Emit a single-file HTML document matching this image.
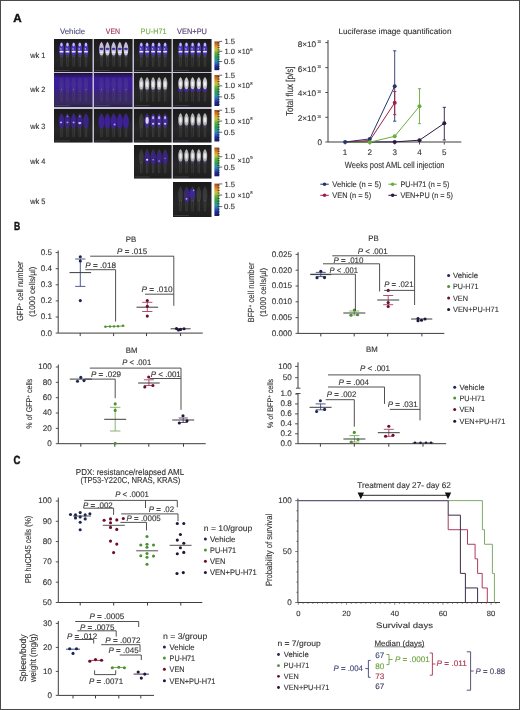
<!DOCTYPE html>
<html><head><meta charset="utf-8"><style>
html,body{margin:0;padding:0;background:#fff;overflow:hidden;}
svg{display:block;font-family:"Liberation Sans",sans-serif;text-rendering:geometricPrecision;will-change:transform;}
</style></head><body>
<svg width="520" height="710" viewBox="0 0 520 710">
<defs>
<linearGradient id="cbar" x1="0" y1="0" x2="0" y2="1">
<stop offset="0" stop-color="#9c4a2a"/><stop offset="0.1" stop-color="#d0701e"/><stop offset="0.2" stop-color="#e0a030"/>
<stop offset="0.3" stop-color="#b8c83c"/><stop offset="0.4" stop-color="#5cae40"/><stop offset="0.55" stop-color="#2e9c50"/><stop offset="0.68" stop-color="#2a92a8"/>
<stop offset="0.78" stop-color="#2a5cc0"/><stop offset="0.88" stop-color="#22288c"/><stop offset="1" stop-color="#1a1a6c"/></linearGradient>
<linearGradient id="darkbg" x1="0" y1="0" x2="0" y2="1"><stop offset="0" stop-color="#1a1a1a"/><stop offset="0.6" stop-color="#262626"/><stop offset="1" stop-color="#1e1e1e"/></linearGradient>
<linearGradient id="purpbg" x1="0" y1="0" x2="0" y2="1"><stop offset="0" stop-color="#1c1034"/><stop offset="0.08" stop-color="#2c1868"/><stop offset="0.16" stop-color="#3a1e9a"/><stop offset="0.45" stop-color="#3a1e92"/><stop offset="0.62" stop-color="#3a2670"/><stop offset="0.9" stop-color="#382a5e"/><stop offset="1" stop-color="#2a2044"/></linearGradient>
<filter id="bl" x="-50%" y="-50%" width="200%" height="200%"><feGaussianBlur stdDeviation="0.5"/></filter>
</defs>
<rect x="0.00" y="0.00" width="520.00" height="710.00" fill="#ffffff"/>
<text x="13.20" y="21.60" font-size="11.80" fill="#111" font-weight="bold" textLength="8.40" lengthAdjust="spacingAndGlyphs" stroke="#111" stroke-width="0.45">A</text>
<text x="14.00" y="229.80" font-size="11.80" fill="#111" font-weight="bold" textLength="6.20" lengthAdjust="spacingAndGlyphs" stroke="#111" stroke-width="0.45">B</text>
<text x="13.50" y="463.80" font-size="11.80" fill="#111" font-weight="bold" textLength="6.90" lengthAdjust="spacingAndGlyphs" stroke="#111" stroke-width="0.45">C</text>
<rect x="54.00" y="39.00" width="157.50" height="103.50" fill="#c6c0d4"/>
<rect x="134.00" y="145.00" width="77.50" height="33.50" fill="#c6c0d4"/>
<rect x="54" y="39" width="38.5" height="33" fill="url(#darkbg)"/>
<path d="M61.51,42.96 C62.89,44.46 63.81,47.49 63.81,49.49 C63.81,55.98 62.89,57.48 61.51,57.48 C60.13,57.48 59.21,55.98 59.21,49.49 C59.21,47.49 60.13,44.46 61.51,42.96 Z" fill="#707070" opacity="0.32" filter="url(#bl)"/>
<line x1="60.61" y1="56.16" x2="60.88" y2="66.72" stroke="#909090" stroke-width="0.45" opacity="0.47"/>
<line x1="62.41" y1="56.16" x2="62.14" y2="66.72" stroke="#909090" stroke-width="0.45" opacity="0.47"/>
<path d="M67.47,42.96 C68.85,44.46 69.77,47.49 69.77,49.49 C69.77,55.98 68.85,57.48 67.47,57.48 C66.09,57.48 65.17,55.98 65.17,49.49 C65.17,47.49 66.09,44.46 67.47,42.96 Z" fill="#707070" opacity="0.32" filter="url(#bl)"/>
<line x1="66.57" y1="56.16" x2="66.84" y2="66.72" stroke="#909090" stroke-width="0.45" opacity="0.47"/>
<line x1="68.38" y1="56.16" x2="68.10" y2="66.72" stroke="#909090" stroke-width="0.45" opacity="0.47"/>
<path d="M73.64,42.96 C75.02,44.46 75.94,47.49 75.94,49.49 C75.94,55.98 75.02,57.48 73.64,57.48 C72.26,57.48 71.34,55.98 71.34,49.49 C71.34,47.49 72.26,44.46 73.64,42.96 Z" fill="#707070" opacity="0.32" filter="url(#bl)"/>
<line x1="72.73" y1="56.16" x2="73.01" y2="66.72" stroke="#909090" stroke-width="0.45" opacity="0.47"/>
<line x1="74.54" y1="56.16" x2="74.27" y2="66.72" stroke="#909090" stroke-width="0.45" opacity="0.47"/>
<path d="M79.80,42.96 C81.17,44.46 82.09,47.49 82.09,49.49 C82.09,55.98 81.17,57.48 79.80,57.48 C78.42,57.48 77.50,55.98 77.50,49.49 C77.50,47.49 78.42,44.46 79.80,42.96 Z" fill="#707070" opacity="0.32" filter="url(#bl)"/>
<line x1="78.89" y1="56.16" x2="79.17" y2="66.72" stroke="#909090" stroke-width="0.45" opacity="0.47"/>
<line x1="80.70" y1="56.16" x2="80.42" y2="66.72" stroke="#909090" stroke-width="0.45" opacity="0.47"/>
<path d="M85.95,42.96 C87.33,44.46 88.25,47.49 88.25,49.49 C88.25,55.98 87.33,57.48 85.95,57.48 C84.58,57.48 83.66,55.98 83.66,49.49 C83.66,47.49 84.58,44.46 85.95,42.96 Z" fill="#707070" opacity="0.32" filter="url(#bl)"/>
<line x1="85.05" y1="56.16" x2="85.33" y2="66.72" stroke="#909090" stroke-width="0.45" opacity="0.47"/>
<line x1="86.86" y1="56.16" x2="86.58" y2="66.72" stroke="#909090" stroke-width="0.45" opacity="0.47"/>
<rect x="54.5" y="70.00" width="15.40" height="0.9" fill="#8080a0" opacity="0.3"/>
<path d="M61.51,41.64 C62.89,43.14 63.81,45.88 63.81,47.88 C63.81,54.00 62.89,55.50 61.51,55.50 C60.13,55.50 59.21,54.00 59.21,47.88 C59.21,45.88 60.13,43.14 61.51,41.64 Z" fill="#4a34c4" opacity="0.95" filter="url(#bl)"/>
<ellipse cx="61.51" cy="44.61" rx="1.2" ry="1.9" fill="#d4ccf6" opacity="0.9" filter="url(#bl)"/>
<ellipse cx="61.51" cy="51.70" rx="2.1" ry="0.85" fill="#f2f0ff" opacity="0.95" filter="url(#bl)"/>
<ellipse cx="60.91" cy="48.90" rx="0.7" ry="0.7" fill="#ffffff" opacity="0.8" filter="url(#bl)"/>
<path d="M67.47,41.64 C68.85,43.14 69.77,45.88 69.77,47.88 C69.77,54.00 68.85,55.50 67.47,55.50 C66.09,55.50 65.17,54.00 65.17,47.88 C65.17,45.88 66.09,43.14 67.47,41.64 Z" fill="#4a34c4" opacity="0.95" filter="url(#bl)"/>
<ellipse cx="67.47" cy="44.61" rx="1.2" ry="1.9" fill="#d4ccf6" opacity="0.9" filter="url(#bl)"/>
<ellipse cx="67.47" cy="51.70" rx="2.1" ry="0.85" fill="#f2f0ff" opacity="0.95" filter="url(#bl)"/>
<ellipse cx="66.88" cy="48.90" rx="0.7" ry="0.7" fill="#ffffff" opacity="0.8" filter="url(#bl)"/>
<path d="M73.64,41.64 C75.02,43.14 75.94,45.88 75.94,47.88 C75.94,54.00 75.02,55.50 73.64,55.50 C72.26,55.50 71.34,54.00 71.34,47.88 C71.34,45.88 72.26,43.14 73.64,41.64 Z" fill="#4a34c4" opacity="0.95" filter="url(#bl)"/>
<ellipse cx="73.64" cy="44.61" rx="1.2" ry="1.9" fill="#d4ccf6" opacity="0.9" filter="url(#bl)"/>
<ellipse cx="73.64" cy="51.70" rx="2.1" ry="0.85" fill="#f2f0ff" opacity="0.95" filter="url(#bl)"/>
<ellipse cx="73.04" cy="48.90" rx="0.7" ry="0.7" fill="#ffffff" opacity="0.8" filter="url(#bl)"/>
<path d="M79.80,41.64 C81.17,43.14 82.09,45.88 82.09,47.88 C82.09,54.00 81.17,55.50 79.80,55.50 C78.42,55.50 77.50,54.00 77.50,47.88 C77.50,45.88 78.42,43.14 79.80,41.64 Z" fill="#4a34c4" opacity="0.95" filter="url(#bl)"/>
<ellipse cx="79.80" cy="44.61" rx="1.2" ry="1.9" fill="#d4ccf6" opacity="0.9" filter="url(#bl)"/>
<ellipse cx="79.80" cy="51.70" rx="2.1" ry="0.85" fill="#f2f0ff" opacity="0.95" filter="url(#bl)"/>
<ellipse cx="79.20" cy="48.90" rx="0.7" ry="0.7" fill="#ffffff" opacity="0.8" filter="url(#bl)"/>
<path d="M85.95,41.64 C87.33,43.14 88.25,45.88 88.25,47.88 C88.25,54.00 87.33,55.50 85.95,55.50 C84.58,55.50 83.66,54.00 83.66,47.88 C83.66,45.88 84.58,43.14 85.95,41.64 Z" fill="#4a34c4" opacity="0.95" filter="url(#bl)"/>
<ellipse cx="85.95" cy="44.61" rx="1.2" ry="1.9" fill="#d4ccf6" opacity="0.9" filter="url(#bl)"/>
<ellipse cx="85.95" cy="51.70" rx="2.1" ry="0.85" fill="#f2f0ff" opacity="0.95" filter="url(#bl)"/>
<ellipse cx="85.36" cy="48.90" rx="0.7" ry="0.7" fill="#ffffff" opacity="0.8" filter="url(#bl)"/>
<rect x="94" y="39" width="38.5" height="33" fill="url(#darkbg)"/>
<path d="M101.51,42.96 C102.89,44.46 103.81,47.49 103.81,49.49 C103.81,55.98 102.89,57.48 101.51,57.48 C100.13,57.48 99.21,55.98 99.21,49.49 C99.21,47.49 100.13,44.46 101.51,42.96 Z" fill="#707070" opacity="0.32" filter="url(#bl)"/>
<line x1="100.61" y1="56.16" x2="100.88" y2="66.72" stroke="#909090" stroke-width="0.45" opacity="0.47"/>
<line x1="102.41" y1="56.16" x2="102.14" y2="66.72" stroke="#909090" stroke-width="0.45" opacity="0.47"/>
<path d="M107.47,42.96 C108.85,44.46 109.77,47.49 109.77,49.49 C109.77,55.98 108.85,57.48 107.47,57.48 C106.09,57.48 105.17,55.98 105.17,49.49 C105.17,47.49 106.09,44.46 107.47,42.96 Z" fill="#707070" opacity="0.32" filter="url(#bl)"/>
<line x1="106.57" y1="56.16" x2="106.84" y2="66.72" stroke="#909090" stroke-width="0.45" opacity="0.47"/>
<line x1="108.38" y1="56.16" x2="108.10" y2="66.72" stroke="#909090" stroke-width="0.45" opacity="0.47"/>
<path d="M113.64,42.96 C115.02,44.46 115.94,47.49 115.94,49.49 C115.94,55.98 115.02,57.48 113.64,57.48 C112.26,57.48 111.34,55.98 111.34,49.49 C111.34,47.49 112.26,44.46 113.64,42.96 Z" fill="#707070" opacity="0.32" filter="url(#bl)"/>
<line x1="112.73" y1="56.16" x2="113.01" y2="66.72" stroke="#909090" stroke-width="0.45" opacity="0.47"/>
<line x1="114.54" y1="56.16" x2="114.27" y2="66.72" stroke="#909090" stroke-width="0.45" opacity="0.47"/>
<path d="M119.80,42.96 C121.17,44.46 122.09,47.49 122.09,49.49 C122.09,55.98 121.17,57.48 119.80,57.48 C118.42,57.48 117.50,55.98 117.50,49.49 C117.50,47.49 118.42,44.46 119.80,42.96 Z" fill="#707070" opacity="0.32" filter="url(#bl)"/>
<line x1="118.89" y1="56.16" x2="119.17" y2="66.72" stroke="#909090" stroke-width="0.45" opacity="0.47"/>
<line x1="120.70" y1="56.16" x2="120.42" y2="66.72" stroke="#909090" stroke-width="0.45" opacity="0.47"/>
<path d="M125.95,42.96 C127.33,44.46 128.25,47.49 128.25,49.49 C128.25,55.98 127.33,57.48 125.95,57.48 C124.58,57.48 123.66,55.98 123.66,49.49 C123.66,47.49 124.58,44.46 125.95,42.96 Z" fill="#707070" opacity="0.32" filter="url(#bl)"/>
<line x1="125.05" y1="56.16" x2="125.33" y2="66.72" stroke="#909090" stroke-width="0.45" opacity="0.47"/>
<line x1="126.86" y1="56.16" x2="126.58" y2="66.72" stroke="#909090" stroke-width="0.45" opacity="0.47"/>
<rect x="94.5" y="70.00" width="15.40" height="0.9" fill="#8080a0" opacity="0.3"/>
<path d="M101.51,41.64 C102.89,43.14 103.81,45.88 103.81,47.88 C103.81,54.00 102.89,55.50 101.51,55.50 C100.13,55.50 99.21,54.00 99.21,47.88 C99.21,45.88 100.13,43.14 101.51,41.64 Z" fill="#cdc6e6" opacity="0.95" filter="url(#bl)"/>
<ellipse cx="101.51" cy="48.90" rx="2.0" ry="1.1" fill="#3a2aa0" opacity="0.9" filter="url(#bl)"/>
<ellipse cx="101.51" cy="52.20" rx="2.0" ry="0.8" fill="#f4f4ff" opacity="0.9" filter="url(#bl)"/>
<path d="M107.47,41.64 C108.85,43.14 109.77,45.88 109.77,47.88 C109.77,54.00 108.85,55.50 107.47,55.50 C106.09,55.50 105.17,54.00 105.17,47.88 C105.17,45.88 106.09,43.14 107.47,41.64 Z" fill="#cdc6e6" opacity="0.95" filter="url(#bl)"/>
<ellipse cx="107.47" cy="48.90" rx="2.0" ry="1.1" fill="#3a2aa0" opacity="0.9" filter="url(#bl)"/>
<ellipse cx="107.47" cy="52.20" rx="2.0" ry="0.8" fill="#f4f4ff" opacity="0.9" filter="url(#bl)"/>
<path d="M113.64,41.64 C115.02,43.14 115.94,45.88 115.94,47.88 C115.94,54.00 115.02,55.50 113.64,55.50 C112.26,55.50 111.34,54.00 111.34,47.88 C111.34,45.88 112.26,43.14 113.64,41.64 Z" fill="#cdc6e6" opacity="0.95" filter="url(#bl)"/>
<ellipse cx="113.64" cy="48.90" rx="2.0" ry="1.1" fill="#3a2aa0" opacity="0.9" filter="url(#bl)"/>
<ellipse cx="113.64" cy="52.20" rx="2.0" ry="0.8" fill="#f4f4ff" opacity="0.9" filter="url(#bl)"/>
<path d="M119.80,41.64 C121.17,43.14 122.09,45.88 122.09,47.88 C122.09,54.00 121.17,55.50 119.80,55.50 C118.42,55.50 117.50,54.00 117.50,47.88 C117.50,45.88 118.42,43.14 119.80,41.64 Z" fill="#cdc6e6" opacity="0.95" filter="url(#bl)"/>
<ellipse cx="119.80" cy="48.90" rx="2.0" ry="1.1" fill="#3a2aa0" opacity="0.9" filter="url(#bl)"/>
<ellipse cx="119.80" cy="52.20" rx="2.0" ry="0.8" fill="#f4f4ff" opacity="0.9" filter="url(#bl)"/>
<path d="M125.95,41.64 C127.33,43.14 128.25,45.88 128.25,47.88 C128.25,54.00 127.33,55.50 125.95,55.50 C124.58,55.50 123.66,54.00 123.66,47.88 C123.66,45.88 124.58,43.14 125.95,41.64 Z" fill="#cdc6e6" opacity="0.95" filter="url(#bl)"/>
<ellipse cx="125.95" cy="48.90" rx="2.0" ry="1.1" fill="#3a2aa0" opacity="0.9" filter="url(#bl)"/>
<ellipse cx="125.95" cy="52.20" rx="2.0" ry="0.8" fill="#f4f4ff" opacity="0.9" filter="url(#bl)"/>
<rect x="134" y="39" width="37.5" height="33" fill="url(#darkbg)"/>
<path d="M141.31,42.96 C142.69,44.46 143.61,47.49 143.61,49.49 C143.61,55.98 142.69,57.48 141.31,57.48 C139.93,57.48 139.01,55.98 139.01,49.49 C139.01,47.49 139.93,44.46 141.31,42.96 Z" fill="#707070" opacity="0.32" filter="url(#bl)"/>
<line x1="140.41" y1="56.16" x2="140.68" y2="66.72" stroke="#909090" stroke-width="0.45" opacity="0.47"/>
<line x1="142.21" y1="56.16" x2="141.94" y2="66.72" stroke="#909090" stroke-width="0.45" opacity="0.47"/>
<path d="M147.12,42.96 C148.50,44.46 149.43,47.49 149.43,49.49 C149.43,55.98 148.50,57.48 147.12,57.48 C145.75,57.48 144.82,55.98 144.82,49.49 C144.82,47.49 145.75,44.46 147.12,42.96 Z" fill="#707070" opacity="0.32" filter="url(#bl)"/>
<line x1="146.22" y1="56.16" x2="146.50" y2="66.72" stroke="#909090" stroke-width="0.45" opacity="0.47"/>
<line x1="148.03" y1="56.16" x2="147.75" y2="66.72" stroke="#909090" stroke-width="0.45" opacity="0.47"/>
<path d="M153.12,42.96 C154.50,44.46 155.43,47.49 155.43,49.49 C155.43,55.98 154.50,57.48 153.12,57.48 C151.75,57.48 150.82,55.98 150.82,49.49 C150.82,47.49 151.75,44.46 153.12,42.96 Z" fill="#707070" opacity="0.32" filter="url(#bl)"/>
<line x1="152.22" y1="56.16" x2="152.50" y2="66.72" stroke="#909090" stroke-width="0.45" opacity="0.47"/>
<line x1="154.03" y1="56.16" x2="153.75" y2="66.72" stroke="#909090" stroke-width="0.45" opacity="0.47"/>
<path d="M159.12,42.96 C160.50,44.46 161.43,47.49 161.43,49.49 C161.43,55.98 160.50,57.48 159.12,57.48 C157.75,57.48 156.82,55.98 156.82,49.49 C156.82,47.49 157.75,44.46 159.12,42.96 Z" fill="#707070" opacity="0.32" filter="url(#bl)"/>
<line x1="158.22" y1="56.16" x2="158.50" y2="66.72" stroke="#909090" stroke-width="0.45" opacity="0.47"/>
<line x1="160.03" y1="56.16" x2="159.75" y2="66.72" stroke="#909090" stroke-width="0.45" opacity="0.47"/>
<path d="M165.12,42.96 C166.50,44.46 167.43,47.49 167.43,49.49 C167.43,55.98 166.50,57.48 165.12,57.48 C163.75,57.48 162.82,55.98 162.82,49.49 C162.82,47.49 163.75,44.46 165.12,42.96 Z" fill="#707070" opacity="0.32" filter="url(#bl)"/>
<line x1="164.22" y1="56.16" x2="164.50" y2="66.72" stroke="#909090" stroke-width="0.45" opacity="0.47"/>
<line x1="166.03" y1="56.16" x2="165.75" y2="66.72" stroke="#909090" stroke-width="0.45" opacity="0.47"/>
<rect x="134.5" y="70.00" width="15.00" height="0.9" fill="#8080a0" opacity="0.3"/>
<path d="M141.31,41.64 C142.69,43.14 143.61,45.88 143.61,47.88 C143.61,54.00 142.69,55.50 141.31,55.50 C139.93,55.50 139.01,54.00 139.01,47.88 C139.01,45.88 139.93,43.14 141.31,41.64 Z" fill="#4a34c4" opacity="0.95" filter="url(#bl)"/>
<ellipse cx="141.31" cy="44.61" rx="1.2" ry="1.9" fill="#d4ccf6" opacity="0.9" filter="url(#bl)"/>
<ellipse cx="141.31" cy="51.70" rx="2.1" ry="0.85" fill="#f2f0ff" opacity="0.95" filter="url(#bl)"/>
<ellipse cx="140.71" cy="48.90" rx="0.7" ry="0.7" fill="#ffffff" opacity="0.8" filter="url(#bl)"/>
<path d="M147.12,41.64 C148.50,43.14 149.43,45.88 149.43,47.88 C149.43,54.00 148.50,55.50 147.12,55.50 C145.75,55.50 144.82,54.00 144.82,47.88 C144.82,45.88 145.75,43.14 147.12,41.64 Z" fill="#4a34c4" opacity="0.95" filter="url(#bl)"/>
<ellipse cx="147.12" cy="44.61" rx="1.2" ry="1.9" fill="#d4ccf6" opacity="0.9" filter="url(#bl)"/>
<ellipse cx="147.12" cy="51.70" rx="2.1" ry="0.85" fill="#f2f0ff" opacity="0.95" filter="url(#bl)"/>
<ellipse cx="146.53" cy="48.90" rx="0.7" ry="0.7" fill="#ffffff" opacity="0.8" filter="url(#bl)"/>
<path d="M153.12,41.64 C154.50,43.14 155.43,45.88 155.43,47.88 C155.43,54.00 154.50,55.50 153.12,55.50 C151.75,55.50 150.82,54.00 150.82,47.88 C150.82,45.88 151.75,43.14 153.12,41.64 Z" fill="#4a34c4" opacity="0.95" filter="url(#bl)"/>
<ellipse cx="153.12" cy="44.61" rx="1.2" ry="1.9" fill="#d4ccf6" opacity="0.9" filter="url(#bl)"/>
<ellipse cx="153.12" cy="51.70" rx="2.1" ry="0.85" fill="#f2f0ff" opacity="0.95" filter="url(#bl)"/>
<ellipse cx="152.53" cy="48.90" rx="0.7" ry="0.7" fill="#ffffff" opacity="0.8" filter="url(#bl)"/>
<path d="M159.12,41.64 C160.50,43.14 161.43,45.88 161.43,47.88 C161.43,54.00 160.50,55.50 159.12,55.50 C157.75,55.50 156.82,54.00 156.82,47.88 C156.82,45.88 157.75,43.14 159.12,41.64 Z" fill="#4a34c4" opacity="0.95" filter="url(#bl)"/>
<ellipse cx="159.12" cy="44.61" rx="1.2" ry="1.9" fill="#d4ccf6" opacity="0.9" filter="url(#bl)"/>
<ellipse cx="159.12" cy="51.70" rx="2.1" ry="0.85" fill="#f2f0ff" opacity="0.95" filter="url(#bl)"/>
<ellipse cx="158.53" cy="48.90" rx="0.7" ry="0.7" fill="#ffffff" opacity="0.8" filter="url(#bl)"/>
<path d="M165.12,41.64 C166.50,43.14 167.43,45.88 167.43,47.88 C167.43,54.00 166.50,55.50 165.12,55.50 C163.75,55.50 162.82,54.00 162.82,47.88 C162.82,45.88 163.75,43.14 165.12,41.64 Z" fill="#4a34c4" opacity="0.95" filter="url(#bl)"/>
<ellipse cx="165.12" cy="44.61" rx="1.2" ry="1.9" fill="#d4ccf6" opacity="0.9" filter="url(#bl)"/>
<ellipse cx="165.12" cy="51.70" rx="2.1" ry="0.85" fill="#f2f0ff" opacity="0.95" filter="url(#bl)"/>
<ellipse cx="164.53" cy="48.90" rx="0.7" ry="0.7" fill="#ffffff" opacity="0.8" filter="url(#bl)"/>
<rect x="173" y="39" width="38.5" height="33" fill="url(#darkbg)"/>
<path d="M180.51,42.96 C181.89,44.46 182.81,47.49 182.81,49.49 C182.81,55.98 181.89,57.48 180.51,57.48 C179.13,57.48 178.21,55.98 178.21,49.49 C178.21,47.49 179.13,44.46 180.51,42.96 Z" fill="#707070" opacity="0.32" filter="url(#bl)"/>
<line x1="179.61" y1="56.16" x2="179.88" y2="66.72" stroke="#909090" stroke-width="0.45" opacity="0.47"/>
<line x1="181.41" y1="56.16" x2="181.14" y2="66.72" stroke="#909090" stroke-width="0.45" opacity="0.47"/>
<path d="M186.47,42.96 C187.85,44.46 188.78,47.49 188.78,49.49 C188.78,55.98 187.85,57.48 186.47,57.48 C185.09,57.48 184.17,55.98 184.17,49.49 C184.17,47.49 185.09,44.46 186.47,42.96 Z" fill="#707070" opacity="0.32" filter="url(#bl)"/>
<line x1="185.57" y1="56.16" x2="185.84" y2="66.72" stroke="#909090" stroke-width="0.45" opacity="0.47"/>
<line x1="187.38" y1="56.16" x2="187.10" y2="66.72" stroke="#909090" stroke-width="0.45" opacity="0.47"/>
<path d="M192.63,42.96 C194.01,44.46 194.94,47.49 194.94,49.49 C194.94,55.98 194.01,57.48 192.63,57.48 C191.25,57.48 190.33,55.98 190.33,49.49 C190.33,47.49 191.25,44.46 192.63,42.96 Z" fill="#707070" opacity="0.32" filter="url(#bl)"/>
<line x1="191.73" y1="56.16" x2="192.00" y2="66.72" stroke="#909090" stroke-width="0.45" opacity="0.47"/>
<line x1="193.53" y1="56.16" x2="193.26" y2="66.72" stroke="#909090" stroke-width="0.45" opacity="0.47"/>
<path d="M198.80,42.96 C200.18,44.46 201.10,47.49 201.10,49.49 C201.10,55.98 200.18,57.48 198.80,57.48 C197.42,57.48 196.50,55.98 196.50,49.49 C196.50,47.49 197.42,44.46 198.80,42.96 Z" fill="#707070" opacity="0.32" filter="url(#bl)"/>
<line x1="197.90" y1="56.16" x2="198.17" y2="66.72" stroke="#909090" stroke-width="0.45" opacity="0.47"/>
<line x1="199.70" y1="56.16" x2="199.43" y2="66.72" stroke="#909090" stroke-width="0.45" opacity="0.47"/>
<path d="M204.95,42.96 C206.33,44.46 207.25,47.49 207.25,49.49 C207.25,55.98 206.33,57.48 204.95,57.48 C203.57,57.48 202.65,55.98 202.65,49.49 C202.65,47.49 203.57,44.46 204.95,42.96 Z" fill="#707070" opacity="0.32" filter="url(#bl)"/>
<line x1="204.05" y1="56.16" x2="204.32" y2="66.72" stroke="#909090" stroke-width="0.45" opacity="0.47"/>
<line x1="205.85" y1="56.16" x2="205.58" y2="66.72" stroke="#909090" stroke-width="0.45" opacity="0.47"/>
<rect x="173.5" y="70.00" width="15.40" height="0.9" fill="#8080a0" opacity="0.3"/>
<path d="M180.51,41.64 C181.89,43.14 182.81,45.88 182.81,47.88 C182.81,54.00 181.89,55.50 180.51,55.50 C179.13,55.50 178.21,54.00 178.21,47.88 C178.21,45.88 179.13,43.14 180.51,41.64 Z" fill="#4a34c4" opacity="0.95" filter="url(#bl)"/>
<ellipse cx="180.51" cy="44.61" rx="1.2" ry="1.9" fill="#d4ccf6" opacity="0.9" filter="url(#bl)"/>
<ellipse cx="180.51" cy="51.70" rx="2.1" ry="0.85" fill="#f2f0ff" opacity="0.95" filter="url(#bl)"/>
<ellipse cx="179.91" cy="48.90" rx="0.7" ry="0.7" fill="#ffffff" opacity="0.8" filter="url(#bl)"/>
<path d="M186.47,41.64 C187.85,43.14 188.78,45.88 188.78,47.88 C188.78,54.00 187.85,55.50 186.47,55.50 C185.09,55.50 184.17,54.00 184.17,47.88 C184.17,45.88 185.09,43.14 186.47,41.64 Z" fill="#4a34c4" opacity="0.95" filter="url(#bl)"/>
<ellipse cx="186.47" cy="44.61" rx="1.2" ry="1.9" fill="#d4ccf6" opacity="0.9" filter="url(#bl)"/>
<ellipse cx="186.47" cy="51.70" rx="2.1" ry="0.85" fill="#f2f0ff" opacity="0.95" filter="url(#bl)"/>
<ellipse cx="185.88" cy="48.90" rx="0.7" ry="0.7" fill="#ffffff" opacity="0.8" filter="url(#bl)"/>
<path d="M192.63,41.64 C194.01,43.14 194.94,45.88 194.94,47.88 C194.94,54.00 194.01,55.50 192.63,55.50 C191.25,55.50 190.33,54.00 190.33,47.88 C190.33,45.88 191.25,43.14 192.63,41.64 Z" fill="#4a34c4" opacity="0.95" filter="url(#bl)"/>
<ellipse cx="192.63" cy="44.61" rx="1.2" ry="1.9" fill="#d4ccf6" opacity="0.9" filter="url(#bl)"/>
<ellipse cx="192.63" cy="51.70" rx="2.1" ry="0.85" fill="#f2f0ff" opacity="0.95" filter="url(#bl)"/>
<ellipse cx="192.03" cy="48.90" rx="0.7" ry="0.7" fill="#ffffff" opacity="0.8" filter="url(#bl)"/>
<path d="M198.80,41.64 C200.18,43.14 201.10,45.88 201.10,47.88 C201.10,54.00 200.18,55.50 198.80,55.50 C197.42,55.50 196.50,54.00 196.50,47.88 C196.50,45.88 197.42,43.14 198.80,41.64 Z" fill="#4a34c4" opacity="0.95" filter="url(#bl)"/>
<ellipse cx="198.80" cy="44.61" rx="1.2" ry="1.9" fill="#d4ccf6" opacity="0.9" filter="url(#bl)"/>
<ellipse cx="198.80" cy="51.70" rx="2.1" ry="0.85" fill="#f2f0ff" opacity="0.95" filter="url(#bl)"/>
<ellipse cx="198.20" cy="48.90" rx="0.7" ry="0.7" fill="#ffffff" opacity="0.8" filter="url(#bl)"/>
<path d="M204.95,41.64 C206.33,43.14 207.25,45.88 207.25,47.88 C207.25,54.00 206.33,55.50 204.95,55.50 C203.57,55.50 202.65,54.00 202.65,47.88 C202.65,45.88 203.57,43.14 204.95,41.64 Z" fill="#4a34c4" opacity="0.95" filter="url(#bl)"/>
<ellipse cx="204.95" cy="44.61" rx="1.2" ry="1.9" fill="#d4ccf6" opacity="0.9" filter="url(#bl)"/>
<ellipse cx="204.95" cy="51.70" rx="2.1" ry="0.85" fill="#f2f0ff" opacity="0.95" filter="url(#bl)"/>
<ellipse cx="204.35" cy="48.90" rx="0.7" ry="0.7" fill="#ffffff" opacity="0.8" filter="url(#bl)"/>
<rect x="54" y="73" width="38.5" height="34" fill="url(#purpbg)"/>
<path d="M61.51,77.08 C62.89,78.58 63.81,81.81 63.81,83.81 C63.81,90.54 62.89,92.04 61.51,92.04 C60.13,92.04 59.21,90.54 59.21,83.81 C59.21,81.81 60.13,78.58 61.51,77.08 Z" fill="#707070" opacity="0.18" filter="url(#bl)"/>
<line x1="60.61" y1="90.68" x2="60.88" y2="101.56" stroke="#909090" stroke-width="0.45" opacity="0.33"/>
<line x1="62.41" y1="90.68" x2="62.14" y2="101.56" stroke="#909090" stroke-width="0.45" opacity="0.33"/>
<path d="M67.47,77.08 C68.85,78.58 69.77,81.81 69.77,83.81 C69.77,90.54 68.85,92.04 67.47,92.04 C66.09,92.04 65.17,90.54 65.17,83.81 C65.17,81.81 66.09,78.58 67.47,77.08 Z" fill="#707070" opacity="0.18" filter="url(#bl)"/>
<line x1="66.57" y1="90.68" x2="66.84" y2="101.56" stroke="#909090" stroke-width="0.45" opacity="0.33"/>
<line x1="68.38" y1="90.68" x2="68.10" y2="101.56" stroke="#909090" stroke-width="0.45" opacity="0.33"/>
<path d="M73.64,77.08 C75.02,78.58 75.94,81.81 75.94,83.81 C75.94,90.54 75.02,92.04 73.64,92.04 C72.26,92.04 71.34,90.54 71.34,83.81 C71.34,81.81 72.26,78.58 73.64,77.08 Z" fill="#707070" opacity="0.18" filter="url(#bl)"/>
<line x1="72.73" y1="90.68" x2="73.01" y2="101.56" stroke="#909090" stroke-width="0.45" opacity="0.33"/>
<line x1="74.54" y1="90.68" x2="74.27" y2="101.56" stroke="#909090" stroke-width="0.45" opacity="0.33"/>
<path d="M79.80,77.08 C81.17,78.58 82.09,81.81 82.09,83.81 C82.09,90.54 81.17,92.04 79.80,92.04 C78.42,92.04 77.50,90.54 77.50,83.81 C77.50,81.81 78.42,78.58 79.80,77.08 Z" fill="#707070" opacity="0.18" filter="url(#bl)"/>
<line x1="78.89" y1="90.68" x2="79.17" y2="101.56" stroke="#909090" stroke-width="0.45" opacity="0.33"/>
<line x1="80.70" y1="90.68" x2="80.42" y2="101.56" stroke="#909090" stroke-width="0.45" opacity="0.33"/>
<path d="M85.95,77.08 C87.33,78.58 88.25,81.81 88.25,83.81 C88.25,90.54 87.33,92.04 85.95,92.04 C84.58,92.04 83.66,90.54 83.66,83.81 C83.66,81.81 84.58,78.58 85.95,77.08 Z" fill="#707070" opacity="0.18" filter="url(#bl)"/>
<line x1="85.05" y1="90.68" x2="85.33" y2="101.56" stroke="#909090" stroke-width="0.45" opacity="0.33"/>
<line x1="86.86" y1="90.68" x2="86.58" y2="101.56" stroke="#909090" stroke-width="0.45" opacity="0.33"/>
<rect x="54.5" y="105.00" width="15.40" height="0.9" fill="#8080a0" opacity="0.3"/>
<ellipse cx="61.51" cy="86.60" rx="1.2" ry="2.6" fill="#4a2ea8" opacity="0.5" filter="url(#bl)"/>
<ellipse cx="67.47" cy="86.60" rx="1.2" ry="2.6" fill="#4a2ea8" opacity="0.5" filter="url(#bl)"/>
<ellipse cx="73.64" cy="86.60" rx="1.2" ry="2.6" fill="#4a2ea8" opacity="0.5" filter="url(#bl)"/>
<ellipse cx="79.80" cy="86.60" rx="1.2" ry="2.6" fill="#4a2ea8" opacity="0.5" filter="url(#bl)"/>
<ellipse cx="85.95" cy="86.60" rx="1.2" ry="2.6" fill="#4a2ea8" opacity="0.5" filter="url(#bl)"/>
<ellipse cx="61.51" cy="89.32" rx="0.7" ry="0.6" fill="#9a8ae0" opacity="0.6" filter="url(#bl)"/>
<ellipse cx="73.64" cy="89.32" rx="0.7" ry="0.6" fill="#9a8ae0" opacity="0.6" filter="url(#bl)"/>
<ellipse cx="85.95" cy="89.32" rx="0.7" ry="0.6" fill="#9a8ae0" opacity="0.6" filter="url(#bl)"/>
<rect x="94" y="73" width="38.5" height="34" fill="url(#purpbg)"/>
<path d="M101.51,77.08 C102.89,78.58 103.81,81.81 103.81,83.81 C103.81,90.54 102.89,92.04 101.51,92.04 C100.13,92.04 99.21,90.54 99.21,83.81 C99.21,81.81 100.13,78.58 101.51,77.08 Z" fill="#707070" opacity="0.18" filter="url(#bl)"/>
<line x1="100.61" y1="90.68" x2="100.88" y2="101.56" stroke="#909090" stroke-width="0.45" opacity="0.33"/>
<line x1="102.41" y1="90.68" x2="102.14" y2="101.56" stroke="#909090" stroke-width="0.45" opacity="0.33"/>
<path d="M107.47,77.08 C108.85,78.58 109.77,81.81 109.77,83.81 C109.77,90.54 108.85,92.04 107.47,92.04 C106.09,92.04 105.17,90.54 105.17,83.81 C105.17,81.81 106.09,78.58 107.47,77.08 Z" fill="#707070" opacity="0.18" filter="url(#bl)"/>
<line x1="106.57" y1="90.68" x2="106.84" y2="101.56" stroke="#909090" stroke-width="0.45" opacity="0.33"/>
<line x1="108.38" y1="90.68" x2="108.10" y2="101.56" stroke="#909090" stroke-width="0.45" opacity="0.33"/>
<path d="M113.64,77.08 C115.02,78.58 115.94,81.81 115.94,83.81 C115.94,90.54 115.02,92.04 113.64,92.04 C112.26,92.04 111.34,90.54 111.34,83.81 C111.34,81.81 112.26,78.58 113.64,77.08 Z" fill="#707070" opacity="0.18" filter="url(#bl)"/>
<line x1="112.73" y1="90.68" x2="113.01" y2="101.56" stroke="#909090" stroke-width="0.45" opacity="0.33"/>
<line x1="114.54" y1="90.68" x2="114.27" y2="101.56" stroke="#909090" stroke-width="0.45" opacity="0.33"/>
<path d="M119.80,77.08 C121.17,78.58 122.09,81.81 122.09,83.81 C122.09,90.54 121.17,92.04 119.80,92.04 C118.42,92.04 117.50,90.54 117.50,83.81 C117.50,81.81 118.42,78.58 119.80,77.08 Z" fill="#707070" opacity="0.18" filter="url(#bl)"/>
<line x1="118.89" y1="90.68" x2="119.17" y2="101.56" stroke="#909090" stroke-width="0.45" opacity="0.33"/>
<line x1="120.70" y1="90.68" x2="120.42" y2="101.56" stroke="#909090" stroke-width="0.45" opacity="0.33"/>
<path d="M125.95,77.08 C127.33,78.58 128.25,81.81 128.25,83.81 C128.25,90.54 127.33,92.04 125.95,92.04 C124.58,92.04 123.66,90.54 123.66,83.81 C123.66,81.81 124.58,78.58 125.95,77.08 Z" fill="#707070" opacity="0.18" filter="url(#bl)"/>
<line x1="125.05" y1="90.68" x2="125.33" y2="101.56" stroke="#909090" stroke-width="0.45" opacity="0.33"/>
<line x1="126.86" y1="90.68" x2="126.58" y2="101.56" stroke="#909090" stroke-width="0.45" opacity="0.33"/>
<rect x="94.5" y="105.00" width="15.40" height="0.9" fill="#8080a0" opacity="0.3"/>
<ellipse cx="101.51" cy="86.60" rx="1.2" ry="2.6" fill="#4a2ea8" opacity="0.5" filter="url(#bl)"/>
<ellipse cx="107.47" cy="86.60" rx="1.2" ry="2.6" fill="#4a2ea8" opacity="0.5" filter="url(#bl)"/>
<ellipse cx="113.64" cy="86.60" rx="1.2" ry="2.6" fill="#4a2ea8" opacity="0.5" filter="url(#bl)"/>
<ellipse cx="119.80" cy="86.60" rx="1.2" ry="2.6" fill="#4a2ea8" opacity="0.5" filter="url(#bl)"/>
<ellipse cx="125.95" cy="86.60" rx="1.2" ry="2.6" fill="#4a2ea8" opacity="0.5" filter="url(#bl)"/>
<ellipse cx="101.51" cy="89.32" rx="0.7" ry="0.6" fill="#9a8ae0" opacity="0.6" filter="url(#bl)"/>
<ellipse cx="113.64" cy="89.32" rx="0.7" ry="0.6" fill="#9a8ae0" opacity="0.6" filter="url(#bl)"/>
<ellipse cx="125.95" cy="89.32" rx="0.7" ry="0.6" fill="#9a8ae0" opacity="0.6" filter="url(#bl)"/>
<rect x="134" y="73" width="37.5" height="34" fill="url(#darkbg)"/>
<path d="M141.31,77.08 C142.69,78.58 143.61,81.81 143.61,83.81 C143.61,90.54 142.69,92.04 141.31,92.04 C139.93,92.04 139.01,90.54 139.01,83.81 C139.01,81.81 139.93,78.58 141.31,77.08 Z" fill="#707070" opacity="0.32" filter="url(#bl)"/>
<line x1="140.41" y1="90.68" x2="140.68" y2="101.56" stroke="#909090" stroke-width="0.45" opacity="0.47"/>
<line x1="142.21" y1="90.68" x2="141.94" y2="101.56" stroke="#909090" stroke-width="0.45" opacity="0.47"/>
<path d="M147.12,77.08 C148.50,78.58 149.43,81.81 149.43,83.81 C149.43,90.54 148.50,92.04 147.12,92.04 C145.75,92.04 144.82,90.54 144.82,83.81 C144.82,81.81 145.75,78.58 147.12,77.08 Z" fill="#707070" opacity="0.32" filter="url(#bl)"/>
<line x1="146.22" y1="90.68" x2="146.50" y2="101.56" stroke="#909090" stroke-width="0.45" opacity="0.47"/>
<line x1="148.03" y1="90.68" x2="147.75" y2="101.56" stroke="#909090" stroke-width="0.45" opacity="0.47"/>
<path d="M153.12,77.08 C154.50,78.58 155.43,81.81 155.43,83.81 C155.43,90.54 154.50,92.04 153.12,92.04 C151.75,92.04 150.82,90.54 150.82,83.81 C150.82,81.81 151.75,78.58 153.12,77.08 Z" fill="#707070" opacity="0.32" filter="url(#bl)"/>
<line x1="152.22" y1="90.68" x2="152.50" y2="101.56" stroke="#909090" stroke-width="0.45" opacity="0.47"/>
<line x1="154.03" y1="90.68" x2="153.75" y2="101.56" stroke="#909090" stroke-width="0.45" opacity="0.47"/>
<path d="M159.12,77.08 C160.50,78.58 161.43,81.81 161.43,83.81 C161.43,90.54 160.50,92.04 159.12,92.04 C157.75,92.04 156.82,90.54 156.82,83.81 C156.82,81.81 157.75,78.58 159.12,77.08 Z" fill="#707070" opacity="0.32" filter="url(#bl)"/>
<line x1="158.22" y1="90.68" x2="158.50" y2="101.56" stroke="#909090" stroke-width="0.45" opacity="0.47"/>
<line x1="160.03" y1="90.68" x2="159.75" y2="101.56" stroke="#909090" stroke-width="0.45" opacity="0.47"/>
<path d="M165.12,77.08 C166.50,78.58 167.43,81.81 167.43,83.81 C167.43,90.54 166.50,92.04 165.12,92.04 C163.75,92.04 162.82,90.54 162.82,83.81 C162.82,81.81 163.75,78.58 165.12,77.08 Z" fill="#707070" opacity="0.32" filter="url(#bl)"/>
<line x1="164.22" y1="90.68" x2="164.50" y2="101.56" stroke="#909090" stroke-width="0.45" opacity="0.47"/>
<line x1="166.03" y1="90.68" x2="165.75" y2="101.56" stroke="#909090" stroke-width="0.45" opacity="0.47"/>
<rect x="134.5" y="105.00" width="15.00" height="0.9" fill="#8080a0" opacity="0.3"/>
<path d="M141.31,77.08 C142.62,78.58 143.50,80.89 143.50,82.89 C143.50,88.50 142.62,90.00 141.31,90.00 C140.00,90.00 139.13,88.50 139.13,82.89 C139.13,80.89 140.00,78.58 141.31,77.08 Z" fill="#b9b9be" opacity="0.95" filter="url(#bl)"/>
<ellipse cx="141.31" cy="84.22" rx="1.3" ry="3.0" fill="#efefef" opacity="0.9" filter="url(#bl)"/>
<ellipse cx="141.31" cy="90.00" rx="1.5" ry="0.9" fill="#3a22a0" opacity="0.35" filter="url(#bl)"/>
<path d="M147.12,77.08 C148.44,78.58 149.31,80.89 149.31,82.89 C149.31,88.50 148.44,90.00 147.12,90.00 C145.81,90.00 144.94,88.50 144.94,82.89 C144.94,80.89 145.81,78.58 147.12,77.08 Z" fill="#b9b9be" opacity="0.95" filter="url(#bl)"/>
<ellipse cx="147.12" cy="84.22" rx="1.3" ry="3.0" fill="#efefef" opacity="0.9" filter="url(#bl)"/>
<ellipse cx="147.12" cy="90.00" rx="1.5" ry="0.9" fill="#3a22a0" opacity="0.35" filter="url(#bl)"/>
<path d="M153.12,77.08 C154.44,78.58 155.31,80.89 155.31,82.89 C155.31,88.50 154.44,90.00 153.12,90.00 C151.81,90.00 150.94,88.50 150.94,82.89 C150.94,80.89 151.81,78.58 153.12,77.08 Z" fill="#b9b9be" opacity="0.95" filter="url(#bl)"/>
<ellipse cx="153.12" cy="84.22" rx="1.3" ry="3.0" fill="#efefef" opacity="0.9" filter="url(#bl)"/>
<ellipse cx="153.12" cy="90.00" rx="1.5" ry="0.9" fill="#3a22a0" opacity="0.35" filter="url(#bl)"/>
<path d="M159.12,77.08 C160.44,78.58 161.31,80.89 161.31,82.89 C161.31,88.50 160.44,90.00 159.12,90.00 C157.81,90.00 156.94,88.50 156.94,82.89 C156.94,80.89 157.81,78.58 159.12,77.08 Z" fill="#b9b9be" opacity="0.95" filter="url(#bl)"/>
<ellipse cx="159.12" cy="84.22" rx="1.3" ry="3.0" fill="#efefef" opacity="0.9" filter="url(#bl)"/>
<ellipse cx="159.12" cy="90.00" rx="1.5" ry="0.9" fill="#3a22a0" opacity="0.35" filter="url(#bl)"/>
<path d="M165.12,77.08 C166.44,78.58 167.31,80.89 167.31,82.89 C167.31,88.50 166.44,90.00 165.12,90.00 C163.81,90.00 162.94,88.50 162.94,82.89 C162.94,80.89 163.81,78.58 165.12,77.08 Z" fill="#b9b9be" opacity="0.95" filter="url(#bl)"/>
<ellipse cx="165.12" cy="84.22" rx="1.3" ry="3.0" fill="#efefef" opacity="0.9" filter="url(#bl)"/>
<ellipse cx="165.12" cy="90.00" rx="1.5" ry="0.9" fill="#3a22a0" opacity="0.35" filter="url(#bl)"/>
<rect x="173" y="73" width="38.5" height="34" fill="url(#darkbg)"/>
<path d="M180.51,77.08 C181.89,78.58 182.81,81.81 182.81,83.81 C182.81,90.54 181.89,92.04 180.51,92.04 C179.13,92.04 178.21,90.54 178.21,83.81 C178.21,81.81 179.13,78.58 180.51,77.08 Z" fill="#707070" opacity="0.32" filter="url(#bl)"/>
<line x1="179.61" y1="90.68" x2="179.88" y2="101.56" stroke="#909090" stroke-width="0.45" opacity="0.47"/>
<line x1="181.41" y1="90.68" x2="181.14" y2="101.56" stroke="#909090" stroke-width="0.45" opacity="0.47"/>
<path d="M186.47,77.08 C187.85,78.58 188.78,81.81 188.78,83.81 C188.78,90.54 187.85,92.04 186.47,92.04 C185.09,92.04 184.17,90.54 184.17,83.81 C184.17,81.81 185.09,78.58 186.47,77.08 Z" fill="#707070" opacity="0.32" filter="url(#bl)"/>
<line x1="185.57" y1="90.68" x2="185.84" y2="101.56" stroke="#909090" stroke-width="0.45" opacity="0.47"/>
<line x1="187.38" y1="90.68" x2="187.10" y2="101.56" stroke="#909090" stroke-width="0.45" opacity="0.47"/>
<path d="M192.63,77.08 C194.01,78.58 194.94,81.81 194.94,83.81 C194.94,90.54 194.01,92.04 192.63,92.04 C191.25,92.04 190.33,90.54 190.33,83.81 C190.33,81.81 191.25,78.58 192.63,77.08 Z" fill="#707070" opacity="0.32" filter="url(#bl)"/>
<line x1="191.73" y1="90.68" x2="192.00" y2="101.56" stroke="#909090" stroke-width="0.45" opacity="0.47"/>
<line x1="193.53" y1="90.68" x2="193.26" y2="101.56" stroke="#909090" stroke-width="0.45" opacity="0.47"/>
<path d="M198.80,77.08 C200.18,78.58 201.10,81.81 201.10,83.81 C201.10,90.54 200.18,92.04 198.80,92.04 C197.42,92.04 196.50,90.54 196.50,83.81 C196.50,81.81 197.42,78.58 198.80,77.08 Z" fill="#707070" opacity="0.32" filter="url(#bl)"/>
<line x1="197.90" y1="90.68" x2="198.17" y2="101.56" stroke="#909090" stroke-width="0.45" opacity="0.47"/>
<line x1="199.70" y1="90.68" x2="199.43" y2="101.56" stroke="#909090" stroke-width="0.45" opacity="0.47"/>
<path d="M204.95,77.08 C206.33,78.58 207.25,81.81 207.25,83.81 C207.25,90.54 206.33,92.04 204.95,92.04 C203.57,92.04 202.65,90.54 202.65,83.81 C202.65,81.81 203.57,78.58 204.95,77.08 Z" fill="#707070" opacity="0.32" filter="url(#bl)"/>
<line x1="204.05" y1="90.68" x2="204.32" y2="101.56" stroke="#909090" stroke-width="0.45" opacity="0.47"/>
<line x1="205.85" y1="90.68" x2="205.58" y2="101.56" stroke="#909090" stroke-width="0.45" opacity="0.47"/>
<rect x="173.5" y="105.00" width="15.40" height="0.9" fill="#8080a0" opacity="0.3"/>
<ellipse cx="180.51" cy="90.00" rx="2.6" ry="1.8" fill="#4424b0" opacity="0.85" filter="url(#bl)"/>
<path d="M180.51,77.08 C181.82,78.58 182.69,80.59 182.69,82.59 C182.69,87.82 181.82,89.32 180.51,89.32 C179.20,89.32 178.32,87.82 178.32,82.59 C178.32,80.59 179.20,78.58 180.51,77.08 Z" fill="#cfcfd6" opacity="0.95" filter="url(#bl)"/>
<ellipse cx="180.51" cy="83.88" rx="1.2" ry="2.4" fill="#f6f6f8" opacity="0.9" filter="url(#bl)"/>
<ellipse cx="186.47" cy="90.00" rx="2.6" ry="1.8" fill="#4424b0" opacity="0.85" filter="url(#bl)"/>
<path d="M186.47,77.08 C187.79,78.58 188.66,80.59 188.66,82.59 C188.66,87.82 187.79,89.32 186.47,89.32 C185.16,89.32 184.29,87.82 184.29,82.59 C184.29,80.59 185.16,78.58 186.47,77.08 Z" fill="#cfcfd6" opacity="0.95" filter="url(#bl)"/>
<ellipse cx="186.47" cy="83.88" rx="1.2" ry="2.4" fill="#f6f6f8" opacity="0.9" filter="url(#bl)"/>
<ellipse cx="192.63" cy="90.00" rx="2.6" ry="1.8" fill="#4424b0" opacity="0.85" filter="url(#bl)"/>
<path d="M192.63,77.08 C193.95,78.58 194.82,80.59 194.82,82.59 C194.82,87.82 193.95,89.32 192.63,89.32 C191.32,89.32 190.45,87.82 190.45,82.59 C190.45,80.59 191.32,78.58 192.63,77.08 Z" fill="#cfcfd6" opacity="0.95" filter="url(#bl)"/>
<ellipse cx="192.63" cy="83.88" rx="1.2" ry="2.4" fill="#f6f6f8" opacity="0.9" filter="url(#bl)"/>
<ellipse cx="198.80" cy="90.00" rx="2.6" ry="1.8" fill="#4424b0" opacity="0.85" filter="url(#bl)"/>
<path d="M198.80,77.08 C200.11,78.58 200.98,80.59 200.98,82.59 C200.98,87.82 200.11,89.32 198.80,89.32 C197.48,89.32 196.61,87.82 196.61,82.59 C196.61,80.59 197.48,78.58 198.80,77.08 Z" fill="#cfcfd6" opacity="0.95" filter="url(#bl)"/>
<ellipse cx="198.80" cy="83.88" rx="1.2" ry="2.4" fill="#f6f6f8" opacity="0.9" filter="url(#bl)"/>
<ellipse cx="204.95" cy="90.00" rx="2.6" ry="1.8" fill="#4424b0" opacity="0.85" filter="url(#bl)"/>
<path d="M204.95,77.08 C206.27,78.58 207.14,80.59 207.14,82.59 C207.14,87.82 206.27,89.32 204.95,89.32 C203.64,89.32 202.77,87.82 202.77,82.59 C202.77,80.59 203.64,78.58 204.95,77.08 Z" fill="#cfcfd6" opacity="0.95" filter="url(#bl)"/>
<ellipse cx="204.95" cy="83.88" rx="1.2" ry="2.4" fill="#f6f6f8" opacity="0.9" filter="url(#bl)"/>
<rect x="54" y="109" width="38.5" height="33.5" fill="url(#darkbg)"/>
<path d="M61.51,113.02 C62.89,114.52 63.81,117.65 63.81,119.65 C63.81,126.26 62.89,127.76 61.51,127.76 C60.13,127.76 59.21,126.26 59.21,119.65 C59.21,117.65 60.13,114.52 61.51,113.02 Z" fill="#707070" opacity="0.32" filter="url(#bl)"/>
<line x1="60.61" y1="126.42" x2="60.88" y2="137.14" stroke="#909090" stroke-width="0.45" opacity="0.47"/>
<line x1="62.41" y1="126.42" x2="62.14" y2="137.14" stroke="#909090" stroke-width="0.45" opacity="0.47"/>
<path d="M67.47,113.02 C68.85,114.52 69.77,117.65 69.77,119.65 C69.77,126.26 68.85,127.76 67.47,127.76 C66.09,127.76 65.17,126.26 65.17,119.65 C65.17,117.65 66.09,114.52 67.47,113.02 Z" fill="#707070" opacity="0.32" filter="url(#bl)"/>
<line x1="66.57" y1="126.42" x2="66.84" y2="137.14" stroke="#909090" stroke-width="0.45" opacity="0.47"/>
<line x1="68.38" y1="126.42" x2="68.10" y2="137.14" stroke="#909090" stroke-width="0.45" opacity="0.47"/>
<path d="M73.64,113.02 C75.02,114.52 75.94,117.65 75.94,119.65 C75.94,126.26 75.02,127.76 73.64,127.76 C72.26,127.76 71.34,126.26 71.34,119.65 C71.34,117.65 72.26,114.52 73.64,113.02 Z" fill="#707070" opacity="0.32" filter="url(#bl)"/>
<line x1="72.73" y1="126.42" x2="73.01" y2="137.14" stroke="#909090" stroke-width="0.45" opacity="0.47"/>
<line x1="74.54" y1="126.42" x2="74.27" y2="137.14" stroke="#909090" stroke-width="0.45" opacity="0.47"/>
<path d="M79.80,113.02 C81.17,114.52 82.09,117.65 82.09,119.65 C82.09,126.26 81.17,127.76 79.80,127.76 C78.42,127.76 77.50,126.26 77.50,119.65 C77.50,117.65 78.42,114.52 79.80,113.02 Z" fill="#707070" opacity="0.32" filter="url(#bl)"/>
<line x1="78.89" y1="126.42" x2="79.17" y2="137.14" stroke="#909090" stroke-width="0.45" opacity="0.47"/>
<line x1="80.70" y1="126.42" x2="80.42" y2="137.14" stroke="#909090" stroke-width="0.45" opacity="0.47"/>
<path d="M85.95,113.02 C87.33,114.52 88.25,117.65 88.25,119.65 C88.25,126.26 87.33,127.76 85.95,127.76 C84.58,127.76 83.66,126.26 83.66,119.65 C83.66,117.65 84.58,114.52 85.95,113.02 Z" fill="#707070" opacity="0.32" filter="url(#bl)"/>
<line x1="85.05" y1="126.42" x2="85.33" y2="137.14" stroke="#909090" stroke-width="0.45" opacity="0.47"/>
<line x1="86.86" y1="126.42" x2="86.58" y2="137.14" stroke="#909090" stroke-width="0.45" opacity="0.47"/>
<rect x="54.5" y="140.50" width="15.40" height="0.9" fill="#8080a0" opacity="0.3"/>
<path d="M61.51,113.69 C63.23,115.19 64.38,118.02 64.38,120.02 C64.38,126.26 63.23,127.76 61.51,127.76 C59.78,127.76 58.63,126.26 58.63,120.02 C58.63,118.02 59.78,115.19 61.51,113.69 Z" fill="#3a1ca0" opacity="0.75" filter="url(#bl)"/>
<path d="M67.47,113.69 C69.20,115.19 70.35,118.02 70.35,120.02 C70.35,126.26 69.20,127.76 67.47,127.76 C65.75,127.76 64.60,126.26 64.60,120.02 C64.60,118.02 65.75,115.19 67.47,113.69 Z" fill="#3a1ca0" opacity="0.75" filter="url(#bl)"/>
<path d="M73.64,113.69 C75.36,115.19 76.51,118.02 76.51,120.02 C76.51,126.26 75.36,127.76 73.64,127.76 C71.91,127.76 70.76,126.26 70.76,120.02 C70.76,118.02 71.91,115.19 73.64,113.69 Z" fill="#3a1ca0" opacity="0.75" filter="url(#bl)"/>
<path d="M79.80,113.69 C81.52,115.19 82.67,118.02 82.67,120.02 C82.67,126.26 81.52,127.76 79.80,127.76 C78.07,127.76 76.92,126.26 76.92,120.02 C76.92,118.02 78.07,115.19 79.80,113.69 Z" fill="#3a1ca0" opacity="0.75" filter="url(#bl)"/>
<path d="M85.95,113.69 C87.68,115.19 88.83,118.02 88.83,120.02 C88.83,126.26 87.68,127.76 85.95,127.76 C84.23,127.76 83.08,126.26 83.08,120.02 C83.08,118.02 84.23,115.19 85.95,113.69 Z" fill="#3a1ca0" opacity="0.75" filter="url(#bl)"/>
<ellipse cx="61.01" cy="122.40" rx="1.1" ry="0.9" fill="#d8d0ff" opacity="0.8" filter="url(#bl)"/>
<ellipse cx="67.47" cy="122.40" rx="1.0" ry="0.9" fill="#c8c0ff" opacity="0.75" filter="url(#bl)"/>
<ellipse cx="73.64" cy="122.40" rx="1.0" ry="0.9" fill="#d0c8ff" opacity="0.8" filter="url(#bl)"/>
<ellipse cx="79.80" cy="123.07" rx="1.6" ry="1.1" fill="#e8e4ff" opacity="0.85" filter="url(#bl)"/>
<ellipse cx="67.47" cy="116.37" rx="0.9" ry="0.9" fill="#a898f0" opacity="0.7" filter="url(#bl)"/>
<ellipse cx="79.80" cy="116.37" rx="0.9" ry="0.9" fill="#a898f0" opacity="0.7" filter="url(#bl)"/>
<rect x="94" y="109" width="38.5" height="33.5" fill="url(#darkbg)"/>
<path d="M101.51,113.02 C102.89,114.52 103.81,117.65 103.81,119.65 C103.81,126.26 102.89,127.76 101.51,127.76 C100.13,127.76 99.21,126.26 99.21,119.65 C99.21,117.65 100.13,114.52 101.51,113.02 Z" fill="#707070" opacity="0.32" filter="url(#bl)"/>
<line x1="100.61" y1="126.42" x2="100.88" y2="137.14" stroke="#909090" stroke-width="0.45" opacity="0.47"/>
<line x1="102.41" y1="126.42" x2="102.14" y2="137.14" stroke="#909090" stroke-width="0.45" opacity="0.47"/>
<path d="M107.47,113.02 C108.85,114.52 109.77,117.65 109.77,119.65 C109.77,126.26 108.85,127.76 107.47,127.76 C106.09,127.76 105.17,126.26 105.17,119.65 C105.17,117.65 106.09,114.52 107.47,113.02 Z" fill="#707070" opacity="0.32" filter="url(#bl)"/>
<line x1="106.57" y1="126.42" x2="106.84" y2="137.14" stroke="#909090" stroke-width="0.45" opacity="0.47"/>
<line x1="108.38" y1="126.42" x2="108.10" y2="137.14" stroke="#909090" stroke-width="0.45" opacity="0.47"/>
<path d="M113.64,113.02 C115.02,114.52 115.94,117.65 115.94,119.65 C115.94,126.26 115.02,127.76 113.64,127.76 C112.26,127.76 111.34,126.26 111.34,119.65 C111.34,117.65 112.26,114.52 113.64,113.02 Z" fill="#707070" opacity="0.32" filter="url(#bl)"/>
<line x1="112.73" y1="126.42" x2="113.01" y2="137.14" stroke="#909090" stroke-width="0.45" opacity="0.47"/>
<line x1="114.54" y1="126.42" x2="114.27" y2="137.14" stroke="#909090" stroke-width="0.45" opacity="0.47"/>
<path d="M119.80,113.02 C121.17,114.52 122.09,117.65 122.09,119.65 C122.09,126.26 121.17,127.76 119.80,127.76 C118.42,127.76 117.50,126.26 117.50,119.65 C117.50,117.65 118.42,114.52 119.80,113.02 Z" fill="#707070" opacity="0.32" filter="url(#bl)"/>
<line x1="118.89" y1="126.42" x2="119.17" y2="137.14" stroke="#909090" stroke-width="0.45" opacity="0.47"/>
<line x1="120.70" y1="126.42" x2="120.42" y2="137.14" stroke="#909090" stroke-width="0.45" opacity="0.47"/>
<path d="M125.95,113.02 C127.33,114.52 128.25,117.65 128.25,119.65 C128.25,126.26 127.33,127.76 125.95,127.76 C124.58,127.76 123.66,126.26 123.66,119.65 C123.66,117.65 124.58,114.52 125.95,113.02 Z" fill="#707070" opacity="0.32" filter="url(#bl)"/>
<line x1="125.05" y1="126.42" x2="125.33" y2="137.14" stroke="#909090" stroke-width="0.45" opacity="0.47"/>
<line x1="126.86" y1="126.42" x2="126.58" y2="137.14" stroke="#909090" stroke-width="0.45" opacity="0.47"/>
<rect x="94.5" y="140.50" width="15.40" height="0.9" fill="#8080a0" opacity="0.3"/>
<path d="M101.51,113.69 C103.37,115.19 104.61,118.32 104.61,120.32 C104.61,126.93 103.37,128.43 101.51,128.43 C99.64,128.43 98.40,126.93 98.40,120.32 C98.40,118.32 99.64,115.19 101.51,113.69 Z" fill="#3c1ca8" opacity="0.8" filter="url(#bl)"/>
<path d="M107.47,113.69 C109.34,115.19 110.58,118.32 110.58,120.32 C110.58,126.93 109.34,128.43 107.47,128.43 C105.61,128.43 104.37,126.93 104.37,120.32 C104.37,118.32 105.61,115.19 107.47,113.69 Z" fill="#3c1ca8" opacity="0.8" filter="url(#bl)"/>
<path d="M113.64,113.69 C115.50,115.19 116.74,118.32 116.74,120.32 C116.74,126.93 115.50,128.43 113.64,128.43 C111.77,128.43 110.53,126.93 110.53,120.32 C110.53,118.32 111.77,115.19 113.64,113.69 Z" fill="#3c1ca8" opacity="0.8" filter="url(#bl)"/>
<path d="M119.80,113.69 C121.66,115.19 122.90,118.32 122.90,120.32 C122.90,126.93 121.66,128.43 119.80,128.43 C117.93,128.43 116.69,126.93 116.69,120.32 C116.69,118.32 117.93,115.19 119.80,113.69 Z" fill="#3c1ca8" opacity="0.8" filter="url(#bl)"/>
<path d="M125.95,113.69 C127.82,115.19 129.06,118.32 129.06,120.32 C129.06,126.93 127.82,128.43 125.95,128.43 C124.09,128.43 122.85,126.93 122.85,120.32 C122.85,118.32 124.09,115.19 125.95,113.69 Z" fill="#3c1ca8" opacity="0.8" filter="url(#bl)"/>
<ellipse cx="114.64" cy="124.41" rx="1.0" ry="1.0" fill="#c8c0ff" opacity="0.8" filter="url(#bl)"/>
<rect x="134" y="109" width="37.5" height="33.5" fill="url(#darkbg)"/>
<path d="M141.31,113.02 C142.69,114.52 143.61,117.65 143.61,119.65 C143.61,126.26 142.69,127.76 141.31,127.76 C139.93,127.76 139.01,126.26 139.01,119.65 C139.01,117.65 139.93,114.52 141.31,113.02 Z" fill="#707070" opacity="0.32" filter="url(#bl)"/>
<line x1="140.41" y1="126.42" x2="140.68" y2="137.14" stroke="#909090" stroke-width="0.45" opacity="0.47"/>
<line x1="142.21" y1="126.42" x2="141.94" y2="137.14" stroke="#909090" stroke-width="0.45" opacity="0.47"/>
<path d="M147.12,113.02 C148.50,114.52 149.43,117.65 149.43,119.65 C149.43,126.26 148.50,127.76 147.12,127.76 C145.75,127.76 144.82,126.26 144.82,119.65 C144.82,117.65 145.75,114.52 147.12,113.02 Z" fill="#707070" opacity="0.32" filter="url(#bl)"/>
<line x1="146.22" y1="126.42" x2="146.50" y2="137.14" stroke="#909090" stroke-width="0.45" opacity="0.47"/>
<line x1="148.03" y1="126.42" x2="147.75" y2="137.14" stroke="#909090" stroke-width="0.45" opacity="0.47"/>
<path d="M153.12,113.02 C154.50,114.52 155.43,117.65 155.43,119.65 C155.43,126.26 154.50,127.76 153.12,127.76 C151.75,127.76 150.82,126.26 150.82,119.65 C150.82,117.65 151.75,114.52 153.12,113.02 Z" fill="#707070" opacity="0.32" filter="url(#bl)"/>
<line x1="152.22" y1="126.42" x2="152.50" y2="137.14" stroke="#909090" stroke-width="0.45" opacity="0.47"/>
<line x1="154.03" y1="126.42" x2="153.75" y2="137.14" stroke="#909090" stroke-width="0.45" opacity="0.47"/>
<path d="M159.12,113.02 C160.50,114.52 161.43,117.65 161.43,119.65 C161.43,126.26 160.50,127.76 159.12,127.76 C157.75,127.76 156.82,126.26 156.82,119.65 C156.82,117.65 157.75,114.52 159.12,113.02 Z" fill="#707070" opacity="0.32" filter="url(#bl)"/>
<line x1="158.22" y1="126.42" x2="158.50" y2="137.14" stroke="#909090" stroke-width="0.45" opacity="0.47"/>
<line x1="160.03" y1="126.42" x2="159.75" y2="137.14" stroke="#909090" stroke-width="0.45" opacity="0.47"/>
<path d="M165.12,113.02 C166.50,114.52 167.43,117.65 167.43,119.65 C167.43,126.26 166.50,127.76 165.12,127.76 C163.75,127.76 162.82,126.26 162.82,119.65 C162.82,117.65 163.75,114.52 165.12,113.02 Z" fill="#707070" opacity="0.32" filter="url(#bl)"/>
<line x1="164.22" y1="126.42" x2="164.50" y2="137.14" stroke="#909090" stroke-width="0.45" opacity="0.47"/>
<line x1="166.03" y1="126.42" x2="165.75" y2="137.14" stroke="#909090" stroke-width="0.45" opacity="0.47"/>
<rect x="134.5" y="140.50" width="15.00" height="0.9" fill="#8080a0" opacity="0.3"/>
<path d="M147.12,113.69 C148.57,115.19 149.54,117.72 149.54,119.72 C149.54,125.59 148.57,127.09 147.12,127.09 C145.68,127.09 144.71,125.59 144.71,119.72 C144.71,117.72 145.68,115.19 147.12,113.69 Z" fill="#4426b8" opacity="0.85" filter="url(#bl)"/>
<path d="M153.12,113.69 C154.57,115.19 155.54,117.72 155.54,119.72 C155.54,125.59 154.57,127.09 153.12,127.09 C151.68,127.09 150.71,125.59 150.71,119.72 C150.71,117.72 151.68,115.19 153.12,113.69 Z" fill="#4426b8" opacity="0.85" filter="url(#bl)"/>
<path d="M159.12,113.69 C160.57,115.19 161.54,117.72 161.54,119.72 C161.54,125.59 160.57,127.09 159.12,127.09 C157.68,127.09 156.71,125.59 156.71,119.72 C156.71,117.72 157.68,115.19 159.12,113.69 Z" fill="#4426b8" opacity="0.85" filter="url(#bl)"/>
<path d="M165.12,113.69 C166.57,115.19 167.54,117.72 167.54,119.72 C167.54,125.59 166.57,127.09 165.12,127.09 C163.68,127.09 162.71,125.59 162.71,119.72 C162.71,117.72 163.68,115.19 165.12,113.69 Z" fill="#4426b8" opacity="0.85" filter="url(#bl)"/>
<ellipse cx="147.12" cy="120.39" rx="1.6" ry="3.4" fill="#ece8fa" opacity="0.9" filter="url(#bl)"/>
<ellipse cx="153.12" cy="117.71" rx="1.1" ry="1.6" fill="#d8d0f8" opacity="0.8" filter="url(#bl)"/>
<ellipse cx="153.12" cy="123.74" rx="1.2" ry="1.0" fill="#f0ecff" opacity="0.8" filter="url(#bl)"/>
<ellipse cx="159.12" cy="117.71" rx="1.1" ry="1.6" fill="#d8d0f8" opacity="0.8" filter="url(#bl)"/>
<ellipse cx="159.12" cy="123.74" rx="1.2" ry="1.0" fill="#f0ecff" opacity="0.8" filter="url(#bl)"/>
<ellipse cx="165.12" cy="117.71" rx="1.1" ry="1.6" fill="#d8d0f8" opacity="0.8" filter="url(#bl)"/>
<ellipse cx="165.12" cy="123.74" rx="1.2" ry="1.0" fill="#f0ecff" opacity="0.8" filter="url(#bl)"/>
<rect x="173" y="109" width="38.5" height="33.5" fill="url(#darkbg)"/>
<path d="M180.51,113.02 C181.89,114.52 182.81,117.65 182.81,119.65 C182.81,126.26 181.89,127.76 180.51,127.76 C179.13,127.76 178.21,126.26 178.21,119.65 C178.21,117.65 179.13,114.52 180.51,113.02 Z" fill="#707070" opacity="0.32" filter="url(#bl)"/>
<line x1="179.61" y1="126.42" x2="179.88" y2="137.14" stroke="#909090" stroke-width="0.45" opacity="0.47"/>
<line x1="181.41" y1="126.42" x2="181.14" y2="137.14" stroke="#909090" stroke-width="0.45" opacity="0.47"/>
<path d="M186.47,113.02 C187.85,114.52 188.78,117.65 188.78,119.65 C188.78,126.26 187.85,127.76 186.47,127.76 C185.09,127.76 184.17,126.26 184.17,119.65 C184.17,117.65 185.09,114.52 186.47,113.02 Z" fill="#707070" opacity="0.32" filter="url(#bl)"/>
<line x1="185.57" y1="126.42" x2="185.84" y2="137.14" stroke="#909090" stroke-width="0.45" opacity="0.47"/>
<line x1="187.38" y1="126.42" x2="187.10" y2="137.14" stroke="#909090" stroke-width="0.45" opacity="0.47"/>
<path d="M192.63,113.02 C194.01,114.52 194.94,117.65 194.94,119.65 C194.94,126.26 194.01,127.76 192.63,127.76 C191.25,127.76 190.33,126.26 190.33,119.65 C190.33,117.65 191.25,114.52 192.63,113.02 Z" fill="#707070" opacity="0.32" filter="url(#bl)"/>
<line x1="191.73" y1="126.42" x2="192.00" y2="137.14" stroke="#909090" stroke-width="0.45" opacity="0.47"/>
<line x1="193.53" y1="126.42" x2="193.26" y2="137.14" stroke="#909090" stroke-width="0.45" opacity="0.47"/>
<path d="M198.80,113.02 C200.18,114.52 201.10,117.65 201.10,119.65 C201.10,126.26 200.18,127.76 198.80,127.76 C197.42,127.76 196.50,126.26 196.50,119.65 C196.50,117.65 197.42,114.52 198.80,113.02 Z" fill="#707070" opacity="0.32" filter="url(#bl)"/>
<line x1="197.90" y1="126.42" x2="198.17" y2="137.14" stroke="#909090" stroke-width="0.45" opacity="0.47"/>
<line x1="199.70" y1="126.42" x2="199.43" y2="137.14" stroke="#909090" stroke-width="0.45" opacity="0.47"/>
<path d="M204.95,113.02 C206.33,114.52 207.25,117.65 207.25,119.65 C207.25,126.26 206.33,127.76 204.95,127.76 C203.57,127.76 202.65,126.26 202.65,119.65 C202.65,117.65 203.57,114.52 204.95,113.02 Z" fill="#707070" opacity="0.32" filter="url(#bl)"/>
<line x1="204.05" y1="126.42" x2="204.32" y2="137.14" stroke="#909090" stroke-width="0.45" opacity="0.47"/>
<line x1="205.85" y1="126.42" x2="205.58" y2="137.14" stroke="#909090" stroke-width="0.45" opacity="0.47"/>
<rect x="173.5" y="140.50" width="15.40" height="0.9" fill="#8080a0" opacity="0.3"/>
<path d="M180.51,113.02 C181.82,114.52 182.69,116.75 182.69,118.75 C182.69,124.25 181.82,125.75 180.51,125.75 C179.20,125.75 178.32,124.25 178.32,118.75 C178.32,116.75 179.20,114.52 180.51,113.02 Z" fill="#b9b9be" opacity="0.95" filter="url(#bl)"/>
<ellipse cx="180.51" cy="120.06" rx="1.3" ry="3.0" fill="#efefef" opacity="0.9" filter="url(#bl)"/>
<ellipse cx="180.51" cy="125.75" rx="1.5" ry="0.9" fill="#3a22a0" opacity="0.35" filter="url(#bl)"/>
<path d="M186.47,113.02 C187.79,114.52 188.66,116.75 188.66,118.75 C188.66,124.25 187.79,125.75 186.47,125.75 C185.16,125.75 184.29,124.25 184.29,118.75 C184.29,116.75 185.16,114.52 186.47,113.02 Z" fill="#b9b9be" opacity="0.95" filter="url(#bl)"/>
<ellipse cx="186.47" cy="120.06" rx="1.3" ry="3.0" fill="#efefef" opacity="0.9" filter="url(#bl)"/>
<ellipse cx="186.47" cy="125.75" rx="1.5" ry="0.9" fill="#3a22a0" opacity="0.35" filter="url(#bl)"/>
<path d="M192.63,113.02 C193.95,114.52 194.82,116.75 194.82,118.75 C194.82,124.25 193.95,125.75 192.63,125.75 C191.32,125.75 190.45,124.25 190.45,118.75 C190.45,116.75 191.32,114.52 192.63,113.02 Z" fill="#b9b9be" opacity="0.95" filter="url(#bl)"/>
<ellipse cx="192.63" cy="120.06" rx="1.3" ry="3.0" fill="#efefef" opacity="0.9" filter="url(#bl)"/>
<ellipse cx="192.63" cy="125.75" rx="1.5" ry="0.9" fill="#3a22a0" opacity="0.35" filter="url(#bl)"/>
<path d="M198.80,113.02 C200.11,114.52 200.98,116.75 200.98,118.75 C200.98,124.25 200.11,125.75 198.80,125.75 C197.48,125.75 196.61,124.25 196.61,118.75 C196.61,116.75 197.48,114.52 198.80,113.02 Z" fill="#b9b9be" opacity="0.95" filter="url(#bl)"/>
<ellipse cx="198.80" cy="120.06" rx="1.3" ry="3.0" fill="#efefef" opacity="0.9" filter="url(#bl)"/>
<ellipse cx="198.80" cy="125.75" rx="1.5" ry="0.9" fill="#3a22a0" opacity="0.35" filter="url(#bl)"/>
<path d="M204.95,113.02 C206.27,114.52 207.14,116.75 207.14,118.75 C207.14,124.25 206.27,125.75 204.95,125.75 C203.64,125.75 202.77,124.25 202.77,118.75 C202.77,116.75 203.64,114.52 204.95,113.02 Z" fill="#b9b9be" opacity="0.95" filter="url(#bl)"/>
<ellipse cx="204.95" cy="120.06" rx="1.3" ry="3.0" fill="#efefef" opacity="0.9" filter="url(#bl)"/>
<ellipse cx="204.95" cy="125.75" rx="1.5" ry="0.9" fill="#3a22a0" opacity="0.35" filter="url(#bl)"/>
<rect x="134" y="145" width="37.5" height="33.5" fill="url(#darkbg)"/>
<path d="M141.31,149.02 C142.69,150.52 143.61,153.65 143.61,155.65 C143.61,162.26 142.69,163.76 141.31,163.76 C139.93,163.76 139.01,162.26 139.01,155.65 C139.01,153.65 139.93,150.52 141.31,149.02 Z" fill="#707070" opacity="0.32" filter="url(#bl)"/>
<line x1="140.41" y1="162.42" x2="140.68" y2="173.14" stroke="#909090" stroke-width="0.45" opacity="0.47"/>
<line x1="142.21" y1="162.42" x2="141.94" y2="173.14" stroke="#909090" stroke-width="0.45" opacity="0.47"/>
<path d="M147.12,149.02 C148.50,150.52 149.43,153.65 149.43,155.65 C149.43,162.26 148.50,163.76 147.12,163.76 C145.75,163.76 144.82,162.26 144.82,155.65 C144.82,153.65 145.75,150.52 147.12,149.02 Z" fill="#707070" opacity="0.32" filter="url(#bl)"/>
<line x1="146.22" y1="162.42" x2="146.50" y2="173.14" stroke="#909090" stroke-width="0.45" opacity="0.47"/>
<line x1="148.03" y1="162.42" x2="147.75" y2="173.14" stroke="#909090" stroke-width="0.45" opacity="0.47"/>
<path d="M153.12,149.02 C154.50,150.52 155.43,153.65 155.43,155.65 C155.43,162.26 154.50,163.76 153.12,163.76 C151.75,163.76 150.82,162.26 150.82,155.65 C150.82,153.65 151.75,150.52 153.12,149.02 Z" fill="#707070" opacity="0.32" filter="url(#bl)"/>
<line x1="152.22" y1="162.42" x2="152.50" y2="173.14" stroke="#909090" stroke-width="0.45" opacity="0.47"/>
<line x1="154.03" y1="162.42" x2="153.75" y2="173.14" stroke="#909090" stroke-width="0.45" opacity="0.47"/>
<path d="M159.12,149.02 C160.50,150.52 161.43,153.65 161.43,155.65 C161.43,162.26 160.50,163.76 159.12,163.76 C157.75,163.76 156.82,162.26 156.82,155.65 C156.82,153.65 157.75,150.52 159.12,149.02 Z" fill="#707070" opacity="0.32" filter="url(#bl)"/>
<line x1="158.22" y1="162.42" x2="158.50" y2="173.14" stroke="#909090" stroke-width="0.45" opacity="0.47"/>
<line x1="160.03" y1="162.42" x2="159.75" y2="173.14" stroke="#909090" stroke-width="0.45" opacity="0.47"/>
<path d="M165.12,149.02 C166.50,150.52 167.43,153.65 167.43,155.65 C167.43,162.26 166.50,163.76 165.12,163.76 C163.75,163.76 162.82,162.26 162.82,155.65 C162.82,153.65 163.75,150.52 165.12,149.02 Z" fill="#707070" opacity="0.32" filter="url(#bl)"/>
<line x1="164.22" y1="162.42" x2="164.50" y2="173.14" stroke="#909090" stroke-width="0.45" opacity="0.47"/>
<line x1="166.03" y1="162.42" x2="165.75" y2="173.14" stroke="#909090" stroke-width="0.45" opacity="0.47"/>
<rect x="134.5" y="176.50" width="15.00" height="0.9" fill="#8080a0" opacity="0.3"/>
<path d="M147.12,151.03 C148.78,152.53 149.88,155.06 149.88,157.06 C149.88,162.93 148.78,164.43 147.12,164.43 C145.47,164.43 144.37,162.93 144.37,157.06 C144.37,155.06 145.47,152.53 147.12,151.03 Z" fill="#3a1ca0" opacity="0.7" filter="url(#bl)"/>
<path d="M153.12,151.03 C154.78,152.53 155.88,155.06 155.88,157.06 C155.88,162.93 154.78,164.43 153.12,164.43 C151.47,164.43 150.37,162.93 150.37,157.06 C150.37,155.06 151.47,152.53 153.12,151.03 Z" fill="#3a1ca0" opacity="0.7" filter="url(#bl)"/>
<path d="M159.12,151.03 C160.78,152.53 161.88,155.06 161.88,157.06 C161.88,162.93 160.78,164.43 159.12,164.43 C157.47,164.43 156.37,162.93 156.37,157.06 C156.37,155.06 157.47,152.53 159.12,151.03 Z" fill="#3a1ca0" opacity="0.7" filter="url(#bl)"/>
<path d="M165.12,151.03 C166.78,152.53 167.88,155.06 167.88,157.06 C167.88,162.93 166.78,164.43 165.12,164.43 C163.47,164.43 162.37,162.93 162.37,157.06 C162.37,155.06 163.47,152.53 165.12,151.03 Z" fill="#3a1ca0" opacity="0.7" filter="url(#bl)"/>
<ellipse cx="147.12" cy="159.74" rx="1.1" ry="1.0" fill="#ffffff" opacity="0.9" filter="url(#bl)"/>
<ellipse cx="153.12" cy="159.74" rx="0.9" ry="0.8" fill="#b0a8ff" opacity="0.8" filter="url(#bl)"/>
<ellipse cx="159.12" cy="161.08" rx="0.9" ry="0.8" fill="#b0a8ff" opacity="0.8" filter="url(#bl)"/>
<ellipse cx="165.12" cy="158.40" rx="0.8" ry="0.8" fill="#9088e0" opacity="0.7" filter="url(#bl)"/>
<rect x="173" y="145" width="38.5" height="33.5" fill="url(#darkbg)"/>
<path d="M180.51,149.02 C181.89,150.52 182.81,153.65 182.81,155.65 C182.81,162.26 181.89,163.76 180.51,163.76 C179.13,163.76 178.21,162.26 178.21,155.65 C178.21,153.65 179.13,150.52 180.51,149.02 Z" fill="#707070" opacity="0.32" filter="url(#bl)"/>
<line x1="179.61" y1="162.42" x2="179.88" y2="173.14" stroke="#909090" stroke-width="0.45" opacity="0.47"/>
<line x1="181.41" y1="162.42" x2="181.14" y2="173.14" stroke="#909090" stroke-width="0.45" opacity="0.47"/>
<path d="M186.47,149.02 C187.85,150.52 188.78,153.65 188.78,155.65 C188.78,162.26 187.85,163.76 186.47,163.76 C185.09,163.76 184.17,162.26 184.17,155.65 C184.17,153.65 185.09,150.52 186.47,149.02 Z" fill="#707070" opacity="0.32" filter="url(#bl)"/>
<line x1="185.57" y1="162.42" x2="185.84" y2="173.14" stroke="#909090" stroke-width="0.45" opacity="0.47"/>
<line x1="187.38" y1="162.42" x2="187.10" y2="173.14" stroke="#909090" stroke-width="0.45" opacity="0.47"/>
<path d="M192.63,149.02 C194.01,150.52 194.94,153.65 194.94,155.65 C194.94,162.26 194.01,163.76 192.63,163.76 C191.25,163.76 190.33,162.26 190.33,155.65 C190.33,153.65 191.25,150.52 192.63,149.02 Z" fill="#707070" opacity="0.32" filter="url(#bl)"/>
<line x1="191.73" y1="162.42" x2="192.00" y2="173.14" stroke="#909090" stroke-width="0.45" opacity="0.47"/>
<line x1="193.53" y1="162.42" x2="193.26" y2="173.14" stroke="#909090" stroke-width="0.45" opacity="0.47"/>
<path d="M198.80,149.02 C200.18,150.52 201.10,153.65 201.10,155.65 C201.10,162.26 200.18,163.76 198.80,163.76 C197.42,163.76 196.50,162.26 196.50,155.65 C196.50,153.65 197.42,150.52 198.80,149.02 Z" fill="#707070" opacity="0.32" filter="url(#bl)"/>
<line x1="197.90" y1="162.42" x2="198.17" y2="173.14" stroke="#909090" stroke-width="0.45" opacity="0.47"/>
<line x1="199.70" y1="162.42" x2="199.43" y2="173.14" stroke="#909090" stroke-width="0.45" opacity="0.47"/>
<path d="M204.95,149.02 C206.33,150.52 207.25,153.65 207.25,155.65 C207.25,162.26 206.33,163.76 204.95,163.76 C203.57,163.76 202.65,162.26 202.65,155.65 C202.65,153.65 203.57,150.52 204.95,149.02 Z" fill="#707070" opacity="0.32" filter="url(#bl)"/>
<line x1="204.05" y1="162.42" x2="204.32" y2="173.14" stroke="#909090" stroke-width="0.45" opacity="0.47"/>
<line x1="205.85" y1="162.42" x2="205.58" y2="173.14" stroke="#909090" stroke-width="0.45" opacity="0.47"/>
<rect x="173.5" y="176.50" width="15.40" height="0.9" fill="#8080a0" opacity="0.3"/>
<path d="M180.51,149.02 C181.82,150.52 182.69,152.75 182.69,154.75 C182.69,160.25 181.82,161.75 180.51,161.75 C179.20,161.75 178.32,160.25 178.32,154.75 C178.32,152.75 179.20,150.52 180.51,149.02 Z" fill="#b9b9be" opacity="0.95" filter="url(#bl)"/>
<ellipse cx="180.51" cy="156.06" rx="1.3" ry="3.0" fill="#efefef" opacity="0.9" filter="url(#bl)"/>
<ellipse cx="180.51" cy="161.75" rx="1.5" ry="0.9" fill="#3a22a0" opacity="0.35" filter="url(#bl)"/>
<path d="M186.47,149.02 C187.79,150.52 188.66,152.75 188.66,154.75 C188.66,160.25 187.79,161.75 186.47,161.75 C185.16,161.75 184.29,160.25 184.29,154.75 C184.29,152.75 185.16,150.52 186.47,149.02 Z" fill="#b9b9be" opacity="0.95" filter="url(#bl)"/>
<ellipse cx="186.47" cy="156.06" rx="1.3" ry="3.0" fill="#efefef" opacity="0.9" filter="url(#bl)"/>
<ellipse cx="186.47" cy="161.75" rx="1.5" ry="0.9" fill="#3a22a0" opacity="0.35" filter="url(#bl)"/>
<path d="M192.63,149.02 C193.95,150.52 194.82,152.75 194.82,154.75 C194.82,160.25 193.95,161.75 192.63,161.75 C191.32,161.75 190.45,160.25 190.45,154.75 C190.45,152.75 191.32,150.52 192.63,149.02 Z" fill="#b9b9be" opacity="0.95" filter="url(#bl)"/>
<ellipse cx="192.63" cy="156.06" rx="1.3" ry="3.0" fill="#efefef" opacity="0.9" filter="url(#bl)"/>
<ellipse cx="192.63" cy="161.75" rx="1.5" ry="0.9" fill="#3a22a0" opacity="0.35" filter="url(#bl)"/>
<path d="M198.80,149.02 C200.11,150.52 200.98,152.75 200.98,154.75 C200.98,160.25 200.11,161.75 198.80,161.75 C197.48,161.75 196.61,160.25 196.61,154.75 C196.61,152.75 197.48,150.52 198.80,149.02 Z" fill="#b9b9be" opacity="0.95" filter="url(#bl)"/>
<ellipse cx="198.80" cy="156.06" rx="1.3" ry="3.0" fill="#efefef" opacity="0.9" filter="url(#bl)"/>
<ellipse cx="198.80" cy="161.75" rx="1.5" ry="0.9" fill="#3a22a0" opacity="0.35" filter="url(#bl)"/>
<path d="M204.95,149.02 C206.27,150.52 207.14,152.75 207.14,154.75 C207.14,160.25 206.27,161.75 204.95,161.75 C203.64,161.75 202.77,160.25 202.77,154.75 C202.77,152.75 203.64,150.52 204.95,149.02 Z" fill="#b9b9be" opacity="0.95" filter="url(#bl)"/>
<ellipse cx="204.95" cy="156.06" rx="1.3" ry="3.0" fill="#efefef" opacity="0.9" filter="url(#bl)"/>
<ellipse cx="204.95" cy="161.75" rx="1.5" ry="0.9" fill="#3a22a0" opacity="0.35" filter="url(#bl)"/>
<rect x="173" y="182" width="38.5" height="35" fill="url(#darkbg)"/>
<path d="M180.51,186.20 C181.89,187.70 182.81,191.13 182.81,193.13 C182.81,200.10 181.89,201.60 180.51,201.60 C179.13,201.60 178.21,200.10 178.21,193.13 C178.21,191.13 179.13,187.70 180.51,186.20 Z" fill="#707070" opacity="0.32" filter="url(#bl)"/>
<line x1="179.61" y1="200.20" x2="179.88" y2="211.40" stroke="#909090" stroke-width="0.45" opacity="0.47"/>
<line x1="181.41" y1="200.20" x2="181.14" y2="211.40" stroke="#909090" stroke-width="0.45" opacity="0.47"/>
<path d="M186.47,186.20 C187.85,187.70 188.78,191.13 188.78,193.13 C188.78,200.10 187.85,201.60 186.47,201.60 C185.09,201.60 184.17,200.10 184.17,193.13 C184.17,191.13 185.09,187.70 186.47,186.20 Z" fill="#707070" opacity="0.32" filter="url(#bl)"/>
<line x1="185.57" y1="200.20" x2="185.84" y2="211.40" stroke="#909090" stroke-width="0.45" opacity="0.47"/>
<line x1="187.38" y1="200.20" x2="187.10" y2="211.40" stroke="#909090" stroke-width="0.45" opacity="0.47"/>
<path d="M192.63,186.20 C194.01,187.70 194.94,191.13 194.94,193.13 C194.94,200.10 194.01,201.60 192.63,201.60 C191.25,201.60 190.33,200.10 190.33,193.13 C190.33,191.13 191.25,187.70 192.63,186.20 Z" fill="#707070" opacity="0.32" filter="url(#bl)"/>
<line x1="191.73" y1="200.20" x2="192.00" y2="211.40" stroke="#909090" stroke-width="0.45" opacity="0.47"/>
<line x1="193.53" y1="200.20" x2="193.26" y2="211.40" stroke="#909090" stroke-width="0.45" opacity="0.47"/>
<path d="M198.80,186.20 C200.18,187.70 201.10,191.13 201.10,193.13 C201.10,200.10 200.18,201.60 198.80,201.60 C197.42,201.60 196.50,200.10 196.50,193.13 C196.50,191.13 197.42,187.70 198.80,186.20 Z" fill="#707070" opacity="0.32" filter="url(#bl)"/>
<line x1="197.90" y1="200.20" x2="198.17" y2="211.40" stroke="#909090" stroke-width="0.45" opacity="0.47"/>
<line x1="199.70" y1="200.20" x2="199.43" y2="211.40" stroke="#909090" stroke-width="0.45" opacity="0.47"/>
<path d="M204.95,186.20 C206.33,187.70 207.25,191.13 207.25,193.13 C207.25,200.10 206.33,201.60 204.95,201.60 C203.57,201.60 202.65,200.10 202.65,193.13 C202.65,191.13 203.57,187.70 204.95,186.20 Z" fill="#707070" opacity="0.32" filter="url(#bl)"/>
<line x1="204.05" y1="200.20" x2="204.32" y2="211.40" stroke="#909090" stroke-width="0.45" opacity="0.47"/>
<line x1="205.85" y1="200.20" x2="205.58" y2="211.40" stroke="#909090" stroke-width="0.45" opacity="0.47"/>
<rect x="173.5" y="215.00" width="15.40" height="0.9" fill="#8080a0" opacity="0.3"/>
<ellipse cx="186.97" cy="192.50" rx="2.2" ry="4.2" fill="#3a1ca0" opacity="0.7" filter="url(#bl)"/>
<ellipse cx="192.13" cy="193.90" rx="3.0" ry="5.5" fill="#4020b0" opacity="0.8" filter="url(#bl)"/>
<ellipse cx="186.97" cy="199.50" rx="2.4" ry="2.8" fill="#4020b0" opacity="0.75" filter="url(#bl)"/>
<ellipse cx="186.47" cy="198.80" rx="0.9" ry="0.9" fill="#d8d0ff" opacity="0.8" filter="url(#bl)"/>
<ellipse cx="193.63" cy="190.40" rx="0.8" ry="0.8" fill="#b8b0ff" opacity="0.8" filter="url(#bl)"/>
<text x="60.00" y="33.50" font-size="8.00" fill="#4c4c7c" stroke="#4c4c7c" stroke-width="0.12" textLength="25.10" lengthAdjust="spacingAndGlyphs">Vehicle</text>
<text x="105.80" y="33.50" font-size="8.00" fill="#9a2a4c" stroke="#9a2a4c" stroke-width="0.12" textLength="14.20" lengthAdjust="spacingAndGlyphs">VEN</text>
<text x="140.60" y="33.50" font-size="8.00" fill="#74ae48" stroke="#74ae48" stroke-width="0.12" textLength="25.90" lengthAdjust="spacingAndGlyphs">PU-H71</text>
<text x="177.00" y="33.50" font-size="8.00" fill="#4e3a6e" stroke="#4e3a6e" stroke-width="0.12" textLength="30.00" lengthAdjust="spacingAndGlyphs">VEN+PU</text>
<text x="30.20" y="58.20" font-size="7.80" fill="#333333" stroke="#333333" stroke-width="0.12" textLength="15.30" lengthAdjust="spacingAndGlyphs">wk 1</text>
<text x="30.20" y="91.90" font-size="7.80" fill="#333333" stroke="#333333" stroke-width="0.12" textLength="15.30" lengthAdjust="spacingAndGlyphs">wk 2</text>
<text x="30.20" y="128.70" font-size="7.80" fill="#333333" stroke="#333333" stroke-width="0.12" textLength="15.30" lengthAdjust="spacingAndGlyphs">wk 3</text>
<text x="30.20" y="163.90" font-size="7.80" fill="#333333" stroke="#333333" stroke-width="0.12" textLength="15.30" lengthAdjust="spacingAndGlyphs">wk 4</text>
<text x="30.20" y="203.70" font-size="7.80" fill="#333333" stroke="#333333" stroke-width="0.12" textLength="15.30" lengthAdjust="spacingAndGlyphs">wk 5</text>
<rect x="214.4" y="41.4" width="4.8" height="28.80" fill="url(#cbar)"/>
<line x1="217.60" y1="42.90" x2="219.60" y2="42.90" stroke="#1a1a2a" stroke-width="0.7"/>
<line x1="217.60" y1="45.25" x2="219.60" y2="45.25" stroke="#1a1a2a" stroke-width="0.7"/>
<line x1="217.60" y1="47.59" x2="219.60" y2="47.59" stroke="#1a1a2a" stroke-width="0.7"/>
<line x1="217.60" y1="49.94" x2="219.60" y2="49.94" stroke="#1a1a2a" stroke-width="0.7"/>
<line x1="217.60" y1="52.28" x2="219.60" y2="52.28" stroke="#1a1a2a" stroke-width="0.7"/>
<line x1="217.60" y1="54.63" x2="219.60" y2="54.63" stroke="#1a1a2a" stroke-width="0.7"/>
<line x1="217.60" y1="56.97" x2="219.60" y2="56.97" stroke="#1a1a2a" stroke-width="0.7"/>
<line x1="217.60" y1="59.32" x2="219.60" y2="59.32" stroke="#1a1a2a" stroke-width="0.7"/>
<line x1="217.60" y1="61.66" x2="219.60" y2="61.66" stroke="#1a1a2a" stroke-width="0.7"/>
<line x1="217.60" y1="64.01" x2="219.60" y2="64.01" stroke="#1a1a2a" stroke-width="0.7"/>
<line x1="217.60" y1="66.35" x2="219.60" y2="66.35" stroke="#1a1a2a" stroke-width="0.7"/>
<line x1="217.60" y1="68.70" x2="219.60" y2="68.70" stroke="#1a1a2a" stroke-width="0.7"/>
<text x="224.40" y="43.99" font-size="7.60" fill="#333333" stroke="#333333" stroke-width="0.12" textLength="10.60" lengthAdjust="spacingAndGlyphs">1.5</text>
<text x="224.40" y="53.90" font-size="7.60" fill="#333333" stroke="#333333" stroke-width="0.12" textLength="10.60" lengthAdjust="spacingAndGlyphs">1.0</text>
<text x="237.50" y="53.90" font-size="7.40" fill="#333333" stroke="#333333" stroke-width="0.12" textLength="12.30" lengthAdjust="spacingAndGlyphs">×10</text>
<text x="250.20" y="50.50" font-size="4.20" fill="#333333" stroke="#333333" stroke-width="0.12" textLength="2.40" lengthAdjust="spacingAndGlyphs">5</text>
<text x="224.00" y="64.15" font-size="7.60" fill="#333333" stroke="#333333" stroke-width="0.12" textLength="11.00" lengthAdjust="spacingAndGlyphs">0.5</text>
<line x1="219.20" y1="41.39" x2="222.20" y2="41.39" stroke="#222" stroke-width="0.7"/>
<line x1="219.20" y1="51.30" x2="222.20" y2="51.30" stroke="#222" stroke-width="0.7"/>
<line x1="219.20" y1="61.55" x2="222.20" y2="61.55" stroke="#222" stroke-width="0.7"/>
<rect x="214.4" y="75.0" width="4.8" height="31.00" fill="url(#cbar)"/>
<line x1="217.60" y1="76.50" x2="219.60" y2="76.50" stroke="#1a1a2a" stroke-width="0.7"/>
<line x1="217.60" y1="79.05" x2="219.60" y2="79.05" stroke="#1a1a2a" stroke-width="0.7"/>
<line x1="217.60" y1="81.59" x2="219.60" y2="81.59" stroke="#1a1a2a" stroke-width="0.7"/>
<line x1="217.60" y1="84.14" x2="219.60" y2="84.14" stroke="#1a1a2a" stroke-width="0.7"/>
<line x1="217.60" y1="86.68" x2="219.60" y2="86.68" stroke="#1a1a2a" stroke-width="0.7"/>
<line x1="217.60" y1="89.23" x2="219.60" y2="89.23" stroke="#1a1a2a" stroke-width="0.7"/>
<line x1="217.60" y1="91.77" x2="219.60" y2="91.77" stroke="#1a1a2a" stroke-width="0.7"/>
<line x1="217.60" y1="94.32" x2="219.60" y2="94.32" stroke="#1a1a2a" stroke-width="0.7"/>
<line x1="217.60" y1="96.86" x2="219.60" y2="96.86" stroke="#1a1a2a" stroke-width="0.7"/>
<line x1="217.60" y1="99.41" x2="219.60" y2="99.41" stroke="#1a1a2a" stroke-width="0.7"/>
<line x1="217.60" y1="101.95" x2="219.60" y2="101.95" stroke="#1a1a2a" stroke-width="0.7"/>
<line x1="217.60" y1="104.50" x2="219.60" y2="104.50" stroke="#1a1a2a" stroke-width="0.7"/>
<text x="224.40" y="77.79" font-size="7.60" fill="#333333" stroke="#333333" stroke-width="0.12" textLength="10.60" lengthAdjust="spacingAndGlyphs">1.5</text>
<text x="224.40" y="88.45" font-size="7.60" fill="#333333" stroke="#333333" stroke-width="0.12" textLength="10.60" lengthAdjust="spacingAndGlyphs">1.0</text>
<text x="237.50" y="88.45" font-size="7.40" fill="#333333" stroke="#333333" stroke-width="0.12" textLength="12.30" lengthAdjust="spacingAndGlyphs">×10</text>
<text x="250.20" y="85.05" font-size="4.20" fill="#333333" stroke="#333333" stroke-width="0.12" textLength="2.40" lengthAdjust="spacingAndGlyphs">8</text>
<text x="224.00" y="99.49" font-size="7.60" fill="#333333" stroke="#333333" stroke-width="0.12" textLength="11.00" lengthAdjust="spacingAndGlyphs">0.5</text>
<line x1="219.20" y1="75.19" x2="222.20" y2="75.19" stroke="#222" stroke-width="0.7"/>
<line x1="219.20" y1="85.85" x2="222.20" y2="85.85" stroke="#222" stroke-width="0.7"/>
<line x1="219.20" y1="96.89" x2="222.20" y2="96.89" stroke="#222" stroke-width="0.7"/>
<rect x="214.4" y="110.0" width="4.8" height="31.50" fill="url(#cbar)"/>
<line x1="217.60" y1="111.50" x2="219.60" y2="111.50" stroke="#1a1a2a" stroke-width="0.7"/>
<line x1="217.60" y1="114.09" x2="219.60" y2="114.09" stroke="#1a1a2a" stroke-width="0.7"/>
<line x1="217.60" y1="116.68" x2="219.60" y2="116.68" stroke="#1a1a2a" stroke-width="0.7"/>
<line x1="217.60" y1="119.27" x2="219.60" y2="119.27" stroke="#1a1a2a" stroke-width="0.7"/>
<line x1="217.60" y1="121.86" x2="219.60" y2="121.86" stroke="#1a1a2a" stroke-width="0.7"/>
<line x1="217.60" y1="124.45" x2="219.60" y2="124.45" stroke="#1a1a2a" stroke-width="0.7"/>
<line x1="217.60" y1="127.05" x2="219.60" y2="127.05" stroke="#1a1a2a" stroke-width="0.7"/>
<line x1="217.60" y1="129.64" x2="219.60" y2="129.64" stroke="#1a1a2a" stroke-width="0.7"/>
<line x1="217.60" y1="132.23" x2="219.60" y2="132.23" stroke="#1a1a2a" stroke-width="0.7"/>
<line x1="217.60" y1="134.82" x2="219.60" y2="134.82" stroke="#1a1a2a" stroke-width="0.7"/>
<line x1="217.60" y1="137.41" x2="219.60" y2="137.41" stroke="#1a1a2a" stroke-width="0.7"/>
<line x1="217.60" y1="140.00" x2="219.60" y2="140.00" stroke="#1a1a2a" stroke-width="0.7"/>
<text x="224.40" y="112.83" font-size="7.60" fill="#333333" stroke="#333333" stroke-width="0.12" textLength="10.60" lengthAdjust="spacingAndGlyphs">1.5</text>
<text x="224.40" y="123.67" font-size="7.60" fill="#333333" stroke="#333333" stroke-width="0.12" textLength="10.60" lengthAdjust="spacingAndGlyphs">1.0</text>
<text x="237.50" y="123.67" font-size="7.40" fill="#333333" stroke="#333333" stroke-width="0.12" textLength="12.30" lengthAdjust="spacingAndGlyphs">×10</text>
<text x="250.20" y="120.27" font-size="4.20" fill="#333333" stroke="#333333" stroke-width="0.12" textLength="2.40" lengthAdjust="spacingAndGlyphs">8</text>
<text x="224.00" y="134.88" font-size="7.60" fill="#333333" stroke="#333333" stroke-width="0.12" textLength="11.00" lengthAdjust="spacingAndGlyphs">0.5</text>
<line x1="219.20" y1="110.23" x2="222.20" y2="110.23" stroke="#222" stroke-width="0.7"/>
<line x1="219.20" y1="121.07" x2="222.20" y2="121.07" stroke="#222" stroke-width="0.7"/>
<line x1="219.20" y1="132.28" x2="222.20" y2="132.28" stroke="#222" stroke-width="0.7"/>
<rect x="214.4" y="147.5" width="4.8" height="28.80" fill="url(#cbar)"/>
<line x1="217.60" y1="149.00" x2="219.60" y2="149.00" stroke="#1a1a2a" stroke-width="0.7"/>
<line x1="217.60" y1="151.35" x2="219.60" y2="151.35" stroke="#1a1a2a" stroke-width="0.7"/>
<line x1="217.60" y1="153.69" x2="219.60" y2="153.69" stroke="#1a1a2a" stroke-width="0.7"/>
<line x1="217.60" y1="156.04" x2="219.60" y2="156.04" stroke="#1a1a2a" stroke-width="0.7"/>
<line x1="217.60" y1="158.38" x2="219.60" y2="158.38" stroke="#1a1a2a" stroke-width="0.7"/>
<line x1="217.60" y1="160.73" x2="219.60" y2="160.73" stroke="#1a1a2a" stroke-width="0.7"/>
<line x1="217.60" y1="163.07" x2="219.60" y2="163.07" stroke="#1a1a2a" stroke-width="0.7"/>
<line x1="217.60" y1="165.42" x2="219.60" y2="165.42" stroke="#1a1a2a" stroke-width="0.7"/>
<line x1="217.60" y1="167.76" x2="219.60" y2="167.76" stroke="#1a1a2a" stroke-width="0.7"/>
<line x1="217.60" y1="170.11" x2="219.60" y2="170.11" stroke="#1a1a2a" stroke-width="0.7"/>
<line x1="217.60" y1="172.45" x2="219.60" y2="172.45" stroke="#1a1a2a" stroke-width="0.7"/>
<line x1="217.60" y1="174.80" x2="219.60" y2="174.80" stroke="#1a1a2a" stroke-width="0.7"/>
<text x="224.40" y="159.31" font-size="7.60" fill="#333333" stroke="#333333" stroke-width="0.12" textLength="10.60" lengthAdjust="spacingAndGlyphs">1.0</text>
<text x="237.50" y="162.81" font-size="7.40" fill="#333333" stroke="#333333" stroke-width="0.12" textLength="12.30" lengthAdjust="spacingAndGlyphs">×10</text>
<text x="250.20" y="159.41" font-size="4.20" fill="#333333" stroke="#333333" stroke-width="0.12" textLength="2.40" lengthAdjust="spacingAndGlyphs">9</text>
<text x="224.00" y="169.68" font-size="7.60" fill="#333333" stroke="#333333" stroke-width="0.12" textLength="11.00" lengthAdjust="spacingAndGlyphs">0.5</text>
<line x1="219.20" y1="156.71" x2="222.20" y2="156.71" stroke="#222" stroke-width="0.7"/>
<line x1="219.20" y1="167.08" x2="222.20" y2="167.08" stroke="#222" stroke-width="0.7"/>
<rect x="214.4" y="183.6" width="4.8" height="32.40" fill="url(#cbar)"/>
<line x1="217.60" y1="185.10" x2="219.60" y2="185.10" stroke="#1a1a2a" stroke-width="0.7"/>
<line x1="217.60" y1="187.77" x2="219.60" y2="187.77" stroke="#1a1a2a" stroke-width="0.7"/>
<line x1="217.60" y1="190.45" x2="219.60" y2="190.45" stroke="#1a1a2a" stroke-width="0.7"/>
<line x1="217.60" y1="193.12" x2="219.60" y2="193.12" stroke="#1a1a2a" stroke-width="0.7"/>
<line x1="217.60" y1="195.79" x2="219.60" y2="195.79" stroke="#1a1a2a" stroke-width="0.7"/>
<line x1="217.60" y1="198.46" x2="219.60" y2="198.46" stroke="#1a1a2a" stroke-width="0.7"/>
<line x1="217.60" y1="201.14" x2="219.60" y2="201.14" stroke="#1a1a2a" stroke-width="0.7"/>
<line x1="217.60" y1="203.81" x2="219.60" y2="203.81" stroke="#1a1a2a" stroke-width="0.7"/>
<line x1="217.60" y1="206.48" x2="219.60" y2="206.48" stroke="#1a1a2a" stroke-width="0.7"/>
<line x1="217.60" y1="209.15" x2="219.60" y2="209.15" stroke="#1a1a2a" stroke-width="0.7"/>
<line x1="217.60" y1="211.83" x2="219.60" y2="211.83" stroke="#1a1a2a" stroke-width="0.7"/>
<line x1="217.60" y1="214.50" x2="219.60" y2="214.50" stroke="#1a1a2a" stroke-width="0.7"/>
<text x="224.40" y="186.52" font-size="7.60" fill="#333333" stroke="#333333" stroke-width="0.12" textLength="10.60" lengthAdjust="spacingAndGlyphs">1.5</text>
<text x="224.40" y="197.66" font-size="7.60" fill="#333333" stroke="#333333" stroke-width="0.12" textLength="10.60" lengthAdjust="spacingAndGlyphs">1.0</text>
<text x="237.50" y="197.66" font-size="7.40" fill="#333333" stroke="#333333" stroke-width="0.12" textLength="12.30" lengthAdjust="spacingAndGlyphs">×10</text>
<text x="250.20" y="194.26" font-size="4.20" fill="#333333" stroke="#333333" stroke-width="0.12" textLength="2.40" lengthAdjust="spacingAndGlyphs">8</text>
<text x="224.00" y="209.20" font-size="7.60" fill="#333333" stroke="#333333" stroke-width="0.12" textLength="11.00" lengthAdjust="spacingAndGlyphs">0.5</text>
<line x1="219.20" y1="183.92" x2="222.20" y2="183.92" stroke="#222" stroke-width="0.7"/>
<line x1="219.20" y1="195.06" x2="222.20" y2="195.06" stroke="#222" stroke-width="0.7"/>
<line x1="219.20" y1="206.60" x2="222.20" y2="206.60" stroke="#222" stroke-width="0.7"/>
<text x="338.50" y="34.40" font-size="8.10" fill="#333333" stroke="#333333" stroke-width="0.12" textLength="113.00" lengthAdjust="spacingAndGlyphs">Luciferase image quantification</text>
<line x1="328.00" y1="40.00" x2="328.00" y2="142.00" stroke="#3d3d3d" stroke-width="1.0"/>
<line x1="328.00" y1="142.00" x2="461.30" y2="142.00" stroke="#3d3d3d" stroke-width="1.1"/>
<line x1="325.30" y1="142.00" x2="328.00" y2="142.00" stroke="#3d3d3d" stroke-width="0.9"/>
<text x="321.90" y="145.00" font-size="8.10" fill="#333333" stroke="#333333" stroke-width="0.12" text-anchor="end">0</text>
<line x1="325.30" y1="117.30" x2="328.00" y2="117.30" stroke="#3d3d3d" stroke-width="0.9"/>
<text x="297.70" y="121.20" font-size="8.10" fill="#333333" stroke="#333333" stroke-width="0.12" textLength="18.50" lengthAdjust="spacingAndGlyphs">2×10</text>
<text x="317.20" y="117.90" font-size="4.40" fill="#333333" stroke="#333333" stroke-width="0.12" textLength="3.80" lengthAdjust="spacingAndGlyphs">10</text>
<line x1="325.30" y1="92.50" x2="328.00" y2="92.50" stroke="#3d3d3d" stroke-width="0.9"/>
<text x="297.70" y="96.40" font-size="8.10" fill="#333333" stroke="#333333" stroke-width="0.12" textLength="18.50" lengthAdjust="spacingAndGlyphs">4×10</text>
<text x="317.20" y="93.10" font-size="4.40" fill="#333333" stroke="#333333" stroke-width="0.12" textLength="3.80" lengthAdjust="spacingAndGlyphs">10</text>
<line x1="325.30" y1="67.60" x2="328.00" y2="67.60" stroke="#3d3d3d" stroke-width="0.9"/>
<text x="297.70" y="71.50" font-size="8.10" fill="#333333" stroke="#333333" stroke-width="0.12" textLength="18.50" lengthAdjust="spacingAndGlyphs">6×10</text>
<text x="317.20" y="68.20" font-size="4.40" fill="#333333" stroke="#333333" stroke-width="0.12" textLength="3.80" lengthAdjust="spacingAndGlyphs">10</text>
<line x1="325.30" y1="42.60" x2="328.00" y2="42.60" stroke="#3d3d3d" stroke-width="0.9"/>
<text x="297.70" y="46.50" font-size="8.10" fill="#333333" stroke="#333333" stroke-width="0.12" textLength="18.50" lengthAdjust="spacingAndGlyphs">8×10</text>
<text x="317.20" y="43.20" font-size="4.40" fill="#333333" stroke="#333333" stroke-width="0.12" textLength="3.80" lengthAdjust="spacingAndGlyphs">10</text>
<line x1="345.10" y1="142.00" x2="345.10" y2="144.50" stroke="#3d3d3d" stroke-width="0.9"/>
<text x="345.10" y="155.00" font-size="8.10" fill="#333333" stroke="#333333" stroke-width="0.12" text-anchor="middle">1</text>
<line x1="369.80" y1="142.00" x2="369.80" y2="144.50" stroke="#3d3d3d" stroke-width="0.9"/>
<text x="369.80" y="155.00" font-size="8.10" fill="#333333" stroke="#333333" stroke-width="0.12" text-anchor="middle">2</text>
<line x1="394.70" y1="142.00" x2="394.70" y2="144.50" stroke="#3d3d3d" stroke-width="0.9"/>
<text x="394.70" y="155.00" font-size="8.10" fill="#333333" stroke="#333333" stroke-width="0.12" text-anchor="middle">3</text>
<line x1="419.50" y1="142.00" x2="419.50" y2="144.50" stroke="#3d3d3d" stroke-width="0.9"/>
<text x="419.50" y="155.00" font-size="8.10" fill="#333333" stroke="#333333" stroke-width="0.12" text-anchor="middle">4</text>
<line x1="444.30" y1="142.00" x2="444.30" y2="144.50" stroke="#3d3d3d" stroke-width="0.9"/>
<text x="444.30" y="155.00" font-size="8.10" fill="#333333" stroke="#333333" stroke-width="0.12" text-anchor="middle">5</text>
<text x="344.70" y="168.20" font-size="9.00" fill="#333333" stroke="#333333" stroke-width="0.12" textLength="99.90" lengthAdjust="spacingAndGlyphs">Weeks post AML cell injection</text>
<text x="292.70" y="115.95" font-size="10.00" fill="#333333" stroke="#333333" stroke-width="0.12" textLength="49.50" lengthAdjust="spacingAndGlyphs" transform="rotate(-90 292.70 115.95)">Total flux [p/s]</text>
<line x1="394.70" y1="50.80" x2="394.70" y2="121.20" stroke="#27356b" stroke-width="0.9"/>
<line x1="393.10" y1="50.80" x2="396.30" y2="50.80" stroke="#27356b" stroke-width="0.9"/>
<line x1="393.10" y1="121.20" x2="396.30" y2="121.20" stroke="#27356b" stroke-width="0.9"/>
<line x1="394.70" y1="91.50" x2="394.70" y2="114.70" stroke="#a31f45" stroke-width="0.9"/>
<line x1="393.10" y1="91.50" x2="396.30" y2="91.50" stroke="#a31f45" stroke-width="0.9"/>
<line x1="393.10" y1="114.70" x2="396.30" y2="114.70" stroke="#a31f45" stroke-width="0.9"/>
<line x1="419.50" y1="88.70" x2="419.50" y2="123.70" stroke="#6aac3c" stroke-width="0.9"/>
<line x1="417.90" y1="88.70" x2="421.10" y2="88.70" stroke="#6aac3c" stroke-width="0.9"/>
<line x1="417.90" y1="123.70" x2="421.10" y2="123.70" stroke="#6aac3c" stroke-width="0.9"/>
<line x1="444.30" y1="107.30" x2="444.30" y2="140.00" stroke="#2c1944" stroke-width="0.9"/>
<line x1="442.70" y1="107.30" x2="445.90" y2="107.30" stroke="#2c1944" stroke-width="0.9"/>
<line x1="442.70" y1="140.00" x2="445.90" y2="140.00" stroke="#2c1944" stroke-width="0.9"/>
<polyline points="345.10,142.00 369.80,142.00 394.70,141.90 419.50,140.20 444.30,123.30" fill="none" stroke="#2c1944" stroke-width="1.0"/>
<polyline points="345.10,142.00 369.80,142.20 394.70,136.30 419.50,106.30" fill="none" stroke="#6aac3c" stroke-width="1.0"/>
<polyline points="345.10,142.00 369.80,140.50 394.70,102.80" fill="none" stroke="#a31f45" stroke-width="1.0"/>
<polyline points="345.10,142.00 369.80,138.90 394.70,86.20" fill="none" stroke="#27356b" stroke-width="1.0"/>
<circle cx="345.10" cy="142.00" r="2.0" fill="#27356b"/>
<circle cx="369.80" cy="138.90" r="2.0" fill="#27356b"/>
<circle cx="394.70" cy="86.20" r="2.0" fill="#27356b"/>
<circle cx="394.70" cy="102.80" r="2.0" fill="#a31f45"/>
<circle cx="369.80" cy="142.20" r="2.0" fill="#6aac3c"/>
<circle cx="394.70" cy="136.30" r="2.0" fill="#6aac3c"/>
<circle cx="419.50" cy="106.30" r="2.0" fill="#6aac3c"/>
<circle cx="394.70" cy="141.90" r="2.0" fill="#2c1944"/>
<circle cx="419.50" cy="140.20" r="2.0" fill="#2c1944"/>
<circle cx="444.30" cy="123.30" r="2.0" fill="#2c1944"/>
<line x1="320.30" y1="184.20" x2="328.80" y2="184.20" stroke="#27356b" stroke-width="1.0"/>
<circle cx="324.55" cy="184.20" r="1.8" fill="#27356b"/>
<text x="332.30" y="186.95" font-size="7.86" fill="#333333" stroke="#333333" stroke-width="0.12" textLength="48.90" lengthAdjust="spacingAndGlyphs">Vehicle (n = 5)</text>
<line x1="388.40" y1="184.20" x2="396.90" y2="184.20" stroke="#6aac3c" stroke-width="1.0"/>
<circle cx="392.65" cy="184.20" r="1.8" fill="#6aac3c"/>
<text x="400.40" y="186.95" font-size="7.86" fill="#333333" stroke="#333333" stroke-width="0.12" textLength="49.00" lengthAdjust="spacingAndGlyphs">PU-H71 (n = 5)</text>
<line x1="320.30" y1="195.30" x2="328.80" y2="195.30" stroke="#a31f45" stroke-width="1.0"/>
<circle cx="324.55" cy="195.30" r="1.8" fill="#a31f45"/>
<text x="332.30" y="198.05" font-size="7.86" fill="#333333" stroke="#333333" stroke-width="0.12" textLength="38.80" lengthAdjust="spacingAndGlyphs">VEN (n = 5)</text>
<line x1="388.40" y1="195.30" x2="396.90" y2="195.30" stroke="#2c1944" stroke-width="1.0"/>
<circle cx="392.65" cy="195.30" r="1.8" fill="#2c1944"/>
<text x="400.40" y="198.05" font-size="7.86" fill="#333333" stroke="#333333" stroke-width="0.12" textLength="52.60" lengthAdjust="spacingAndGlyphs">VEN+PU (n = 5)</text>
<text x="130.90" y="241.60" font-size="7.80" fill="#333333" stroke="#333333" stroke-width="0.12" text-anchor="middle">PB</text>
<line x1="58.20" y1="250.50" x2="58.20" y2="333.10" stroke="#3d3d3d" stroke-width="1.0"/>
<line x1="55.70" y1="333.10" x2="58.20" y2="333.10" stroke="#3d3d3d" stroke-width="0.9"/>
<text x="51.90" y="335.50" font-size="8.10" fill="#333333" stroke="#333333" stroke-width="0.12" text-anchor="end">0.0</text>
<line x1="55.70" y1="317.00" x2="58.20" y2="317.00" stroke="#3d3d3d" stroke-width="0.9"/>
<text x="51.90" y="319.40" font-size="8.10" fill="#333333" stroke="#333333" stroke-width="0.12" text-anchor="end">0.1</text>
<line x1="55.70" y1="300.90" x2="58.20" y2="300.90" stroke="#3d3d3d" stroke-width="0.9"/>
<text x="51.90" y="303.30" font-size="8.10" fill="#333333" stroke="#333333" stroke-width="0.12" text-anchor="end">0.2</text>
<line x1="55.70" y1="284.80" x2="58.20" y2="284.80" stroke="#3d3d3d" stroke-width="0.9"/>
<text x="51.90" y="287.20" font-size="8.10" fill="#333333" stroke="#333333" stroke-width="0.12" text-anchor="end">0.3</text>
<line x1="55.70" y1="268.70" x2="58.20" y2="268.70" stroke="#3d3d3d" stroke-width="0.9"/>
<text x="51.90" y="271.10" font-size="8.10" fill="#333333" stroke="#333333" stroke-width="0.12" text-anchor="end">0.4</text>
<line x1="55.70" y1="252.60" x2="58.20" y2="252.60" stroke="#3d3d3d" stroke-width="0.9"/>
<text x="51.90" y="255.00" font-size="8.10" fill="#333333" stroke="#333333" stroke-width="0.12" text-anchor="end">0.5</text>
<line x1="58.30" y1="333.10" x2="202.80" y2="333.10" stroke="#3d3d3d" stroke-width="1.0"/>
<line x1="80.20" y1="333.10" x2="80.20" y2="336.10" stroke="#3d3d3d" stroke-width="1.0"/>
<line x1="113.60" y1="333.10" x2="113.60" y2="336.10" stroke="#3d3d3d" stroke-width="1.0"/>
<line x1="146.50" y1="333.10" x2="146.50" y2="336.10" stroke="#3d3d3d" stroke-width="1.0"/>
<line x1="180.60" y1="333.10" x2="180.60" y2="336.10" stroke="#3d3d3d" stroke-width="1.0"/>
<text x="23.50" y="321.05" font-size="8.80" fill="#333333" stroke="#333333" stroke-width="0.12" textLength="59.70" lengthAdjust="spacingAndGlyphs" transform="rotate(-90 23.50 321.05)">GFP<tspan font-size="62%" baseline-shift="35%">+</tspan> cell number</text>
<text x="34.80" y="316.80" font-size="8.40" fill="#333333" stroke="#333333" stroke-width="0.12" textLength="50.20" lengthAdjust="spacingAndGlyphs" transform="rotate(-90 34.80 316.80)">(1000 cells/µl)</text>
<line x1="80.30" y1="259.00" x2="80.30" y2="286.40" stroke="#3c4a80" stroke-width="0.9"/>
<line x1="75.20" y1="259.00" x2="85.40" y2="259.00" stroke="#3c4a80" stroke-width="0.9"/>
<line x1="75.20" y1="286.40" x2="85.40" y2="286.40" stroke="#3c4a80" stroke-width="0.9"/>
<line x1="69.50" y1="272.60" x2="91.10" y2="272.60" stroke="#3d3d3d" stroke-width="1.0"/>
<circle cx="80.30" cy="256.70" r="1.55" fill="#1c2656"/>
<circle cx="80.30" cy="261.00" r="1.55" fill="#1c2656"/>
<circle cx="80.30" cy="300.60" r="1.55" fill="#1c2656"/>
<line x1="147.30" y1="302.30" x2="147.30" y2="311.50" stroke="#a8405e" stroke-width="0.9"/>
<line x1="142.20" y1="302.30" x2="152.40" y2="302.30" stroke="#a8405e" stroke-width="0.9"/>
<line x1="142.20" y1="311.50" x2="152.40" y2="311.50" stroke="#a8405e" stroke-width="0.9"/>
<line x1="136.50" y1="307.20" x2="158.10" y2="307.20" stroke="#3d3d3d" stroke-width="1.0"/>
<circle cx="147.30" cy="300.60" r="1.55" fill="#6e0c2e"/>
<circle cx="147.30" cy="306.30" r="1.55" fill="#6e0c2e"/>
<circle cx="147.30" cy="316.10" r="1.55" fill="#6e0c2e"/>
<line x1="104.00" y1="326.60" x2="124.50" y2="326.00" stroke="#6aac3c" stroke-width="1.0"/>
<circle cx="105.50" cy="326.80" r="1.2" fill="#4c9234"/>
<circle cx="110.00" cy="326.50" r="1.2" fill="#4c9234"/>
<circle cx="114.00" cy="326.40" r="1.2" fill="#4c9234"/>
<circle cx="118.00" cy="326.20" r="1.2" fill="#4c9234"/>
<circle cx="123.00" cy="325.80" r="1.2" fill="#4c9234"/>
<line x1="170.60" y1="328.80" x2="190.60" y2="328.80" stroke="#3d3d3d" stroke-width="1.0"/>
<circle cx="176.50" cy="328.60" r="1.55" fill="#22143a"/>
<circle cx="180.60" cy="329.40" r="1.55" fill="#22143a"/>
<circle cx="184.00" cy="328.80" r="1.55" fill="#22143a"/>
<circle cx="178.50" cy="330.00" r="1.55" fill="#22143a"/>
<line x1="85.30" y1="269.70" x2="115.60" y2="269.70" stroke="#3d3d3d" stroke-width="0.9"/>
<line x1="115.60" y1="269.70" x2="115.60" y2="321.60" stroke="#3d3d3d" stroke-width="0.9"/>
<line x1="90.20" y1="256.20" x2="173.80" y2="256.20" stroke="#3d3d3d" stroke-width="0.9"/>
<line x1="173.80" y1="256.20" x2="173.80" y2="305.80" stroke="#3d3d3d" stroke-width="0.9"/>
<line x1="145.00" y1="294.20" x2="173.80" y2="294.20" stroke="#3d3d3d" stroke-width="0.9"/>
<text x="85.30" y="267.60" font-size="8.00" fill="#333333" stroke="#333333" stroke-width="0.12" textLength="30.70" lengthAdjust="spacingAndGlyphs"><tspan font-style="italic">P</tspan> = .018</text>
<text x="117.00" y="253.80" font-size="8.00" fill="#333333" stroke="#333333" stroke-width="0.12" textLength="30.30" lengthAdjust="spacingAndGlyphs"><tspan font-style="italic">P</tspan> = .015</text>
<text x="141.50" y="291.80" font-size="8.00" fill="#333333" stroke="#333333" stroke-width="0.12" textLength="31.20" lengthAdjust="spacingAndGlyphs"><tspan font-style="italic">P</tspan> = .010</text>
<text x="373.40" y="241.30" font-size="7.80" fill="#333333" stroke="#333333" stroke-width="0.12" text-anchor="middle">PB</text>
<line x1="298.10" y1="252.20" x2="298.10" y2="333.40" stroke="#3d3d3d" stroke-width="1.0"/>
<line x1="295.60" y1="333.40" x2="298.10" y2="333.40" stroke="#3d3d3d" stroke-width="0.9"/>
<text x="292.00" y="335.80" font-size="8.10" fill="#333333" stroke="#333333" stroke-width="0.12" text-anchor="end">0.000</text>
<line x1="295.60" y1="317.60" x2="298.10" y2="317.60" stroke="#3d3d3d" stroke-width="0.9"/>
<text x="292.00" y="320.00" font-size="8.10" fill="#333333" stroke="#333333" stroke-width="0.12" text-anchor="end">0.005</text>
<line x1="295.60" y1="301.80" x2="298.10" y2="301.80" stroke="#3d3d3d" stroke-width="0.9"/>
<text x="292.00" y="304.20" font-size="8.10" fill="#333333" stroke="#333333" stroke-width="0.12" text-anchor="end">0.010</text>
<line x1="295.60" y1="286.00" x2="298.10" y2="286.00" stroke="#3d3d3d" stroke-width="0.9"/>
<text x="292.00" y="288.40" font-size="8.10" fill="#333333" stroke="#333333" stroke-width="0.12" text-anchor="end">0.015</text>
<line x1="295.60" y1="270.20" x2="298.10" y2="270.20" stroke="#3d3d3d" stroke-width="0.9"/>
<text x="292.00" y="272.60" font-size="8.10" fill="#333333" stroke="#333333" stroke-width="0.12" text-anchor="end">0.020</text>
<line x1="295.60" y1="254.40" x2="298.10" y2="254.40" stroke="#3d3d3d" stroke-width="0.9"/>
<text x="292.00" y="256.80" font-size="8.10" fill="#333333" stroke="#333333" stroke-width="0.12" text-anchor="end">0.025</text>
<line x1="298.10" y1="333.40" x2="444.30" y2="333.40" stroke="#3d3d3d" stroke-width="1.0"/>
<line x1="320.80" y1="333.40" x2="320.80" y2="336.40" stroke="#3d3d3d" stroke-width="1.0"/>
<line x1="354.20" y1="333.40" x2="354.20" y2="336.40" stroke="#3d3d3d" stroke-width="1.0"/>
<line x1="387.70" y1="333.40" x2="387.70" y2="336.40" stroke="#3d3d3d" stroke-width="1.0"/>
<line x1="421.90" y1="333.40" x2="421.90" y2="336.40" stroke="#3d3d3d" stroke-width="1.0"/>
<text x="254.30" y="322.60" font-size="8.80" fill="#333333" stroke="#333333" stroke-width="0.12" textLength="60.20" lengthAdjust="spacingAndGlyphs" transform="rotate(-90 254.30 322.60)">BFP<tspan font-size="62%" baseline-shift="35%">+</tspan> cell number</text>
<text x="265.90" y="316.85" font-size="8.40" fill="#333333" stroke="#333333" stroke-width="0.12" textLength="49.10" lengthAdjust="spacingAndGlyphs" transform="rotate(-90 265.90 316.85)">(1000 cells/µl)</text>
<line x1="320.80" y1="272.40" x2="320.80" y2="276.60" stroke="#3c4a80" stroke-width="0.9"/>
<line x1="315.80" y1="272.40" x2="325.80" y2="272.40" stroke="#3c4a80" stroke-width="0.9"/>
<line x1="315.80" y1="276.60" x2="325.80" y2="276.60" stroke="#3c4a80" stroke-width="0.9"/>
<line x1="310.30" y1="274.60" x2="331.30" y2="274.60" stroke="#3d3d3d" stroke-width="1.0"/>
<circle cx="320.80" cy="271.20" r="1.55" fill="#1c2656"/>
<circle cx="317.00" cy="277.80" r="1.55" fill="#1c2656"/>
<circle cx="324.50" cy="277.60" r="1.55" fill="#1c2656"/>
<line x1="354.30" y1="311.00" x2="354.30" y2="315.00" stroke="#7faa62" stroke-width="0.9"/>
<line x1="349.30" y1="311.00" x2="359.30" y2="311.00" stroke="#7faa62" stroke-width="0.9"/>
<line x1="349.30" y1="315.00" x2="359.30" y2="315.00" stroke="#7faa62" stroke-width="0.9"/>
<line x1="343.30" y1="313.00" x2="365.30" y2="313.00" stroke="#3d3d3d" stroke-width="1.0"/>
<circle cx="354.30" cy="310.00" r="1.55" fill="#4c9234"/>
<circle cx="351.00" cy="315.30" r="1.55" fill="#4c9234"/>
<circle cx="357.50" cy="314.80" r="1.55" fill="#4c9234"/>
<line x1="388.20" y1="295.50" x2="388.20" y2="304.70" stroke="#a8405e" stroke-width="0.9"/>
<line x1="383.20" y1="295.50" x2="393.20" y2="295.50" stroke="#a8405e" stroke-width="0.9"/>
<line x1="383.20" y1="304.70" x2="393.20" y2="304.70" stroke="#a8405e" stroke-width="0.9"/>
<line x1="377.20" y1="300.00" x2="399.20" y2="300.00" stroke="#3d3d3d" stroke-width="1.0"/>
<circle cx="388.20" cy="290.40" r="1.55" fill="#6e0c2e"/>
<circle cx="388.20" cy="302.60" r="1.55" fill="#6e0c2e"/>
<circle cx="388.20" cy="306.50" r="1.55" fill="#6e0c2e"/>
<line x1="411.10" y1="319.00" x2="432.30" y2="319.00" stroke="#3d3d3d" stroke-width="1.0"/>
<circle cx="418.00" cy="318.50" r="1.55" fill="#22143a"/>
<circle cx="421.50" cy="320.30" r="1.55" fill="#22143a"/>
<circle cx="425.00" cy="319.00" r="1.55" fill="#22143a"/>
<circle cx="418.00" cy="320.80" r="1.55" fill="#22143a"/>
<line x1="332.30" y1="255.80" x2="414.60" y2="255.80" stroke="#3d3d3d" stroke-width="0.9"/>
<line x1="414.60" y1="255.80" x2="414.60" y2="305.00" stroke="#3d3d3d" stroke-width="0.9"/>
<line x1="323.00" y1="263.80" x2="379.60" y2="263.80" stroke="#3d3d3d" stroke-width="0.9"/>
<line x1="379.60" y1="263.80" x2="379.60" y2="291.50" stroke="#3d3d3d" stroke-width="0.9"/>
<line x1="310.40" y1="274.20" x2="355.40" y2="274.20" stroke="#3d3d3d" stroke-width="0.9"/>
<line x1="355.40" y1="274.20" x2="355.40" y2="311.20" stroke="#3d3d3d" stroke-width="0.9"/>
<line x1="384.20" y1="290.40" x2="414.60" y2="290.40" stroke="#3d3d3d" stroke-width="0.9"/>
<text x="357.70" y="253.50" font-size="8.00" fill="#333333" stroke="#333333" stroke-width="0.12" textLength="30.00" lengthAdjust="spacingAndGlyphs"><tspan font-style="italic">P</tspan> &lt; .001</text>
<text x="333.50" y="262.80" font-size="8.00" fill="#333333" stroke="#333333" stroke-width="0.12" textLength="30.00" lengthAdjust="spacingAndGlyphs"><tspan font-style="italic">P</tspan> = .010</text>
<text x="329.50" y="273.10" font-size="8.00" fill="#333333" stroke="#333333" stroke-width="0.12" textLength="28.50" lengthAdjust="spacingAndGlyphs"><tspan font-style="italic">P</tspan> &lt; .001</text>
<text x="384.20" y="287.40" font-size="8.00" fill="#333333" stroke="#333333" stroke-width="0.12" textLength="29.30" lengthAdjust="spacingAndGlyphs"><tspan font-style="italic">P</tspan> = .021</text>
<circle cx="448.60" cy="275.40" r="1.5" fill="#1c2656"/>
<circle cx="448.60" cy="286.50" r="1.5" fill="#4c9234"/>
<circle cx="448.60" cy="298.00" r="1.5" fill="#6e0c2e"/>
<circle cx="448.60" cy="309.50" r="1.5" fill="#22143a"/>
<text x="453.00" y="278.10" font-size="7.71" fill="#333333" stroke="#333333" stroke-width="0.12" textLength="25.00" lengthAdjust="spacingAndGlyphs">Vehicle</text>
<text x="453.00" y="289.20" font-size="7.71" fill="#333333" stroke="#333333" stroke-width="0.12" textLength="25.50" lengthAdjust="spacingAndGlyphs">PU-H71</text>
<text x="453.00" y="300.70" font-size="7.71" fill="#333333" stroke="#333333" stroke-width="0.12" textLength="15.00" lengthAdjust="spacingAndGlyphs">VEN</text>
<text x="453.00" y="312.20" font-size="7.71" fill="#333333" stroke="#333333" stroke-width="0.12" textLength="45.80" lengthAdjust="spacingAndGlyphs">VEN+PU-H71</text>
<text x="131.70" y="353.40" font-size="7.80" fill="#333333" stroke="#333333" stroke-width="0.12" text-anchor="middle">BM</text>
<line x1="58.30" y1="364.50" x2="58.30" y2="443.70" stroke="#3d3d3d" stroke-width="1.0"/>
<line x1="55.80" y1="443.70" x2="58.30" y2="443.70" stroke="#3d3d3d" stroke-width="0.9"/>
<text x="51.80" y="446.10" font-size="8.10" fill="#333333" stroke="#333333" stroke-width="0.12" text-anchor="end">0</text>
<line x1="55.80" y1="428.36" x2="58.30" y2="428.36" stroke="#3d3d3d" stroke-width="0.9"/>
<text x="51.80" y="430.76" font-size="8.10" fill="#333333" stroke="#333333" stroke-width="0.12" text-anchor="end">20</text>
<line x1="55.80" y1="413.02" x2="58.30" y2="413.02" stroke="#3d3d3d" stroke-width="0.9"/>
<text x="51.80" y="415.42" font-size="8.10" fill="#333333" stroke="#333333" stroke-width="0.12" text-anchor="end">40</text>
<line x1="55.80" y1="397.68" x2="58.30" y2="397.68" stroke="#3d3d3d" stroke-width="0.9"/>
<text x="51.80" y="400.08" font-size="8.10" fill="#333333" stroke="#333333" stroke-width="0.12" text-anchor="end">60</text>
<line x1="55.80" y1="382.34" x2="58.30" y2="382.34" stroke="#3d3d3d" stroke-width="0.9"/>
<text x="51.80" y="384.74" font-size="8.10" fill="#333333" stroke="#333333" stroke-width="0.12" text-anchor="end">80</text>
<line x1="55.80" y1="367.00" x2="58.30" y2="367.00" stroke="#3d3d3d" stroke-width="0.9"/>
<text x="51.80" y="369.40" font-size="8.10" fill="#333333" stroke="#333333" stroke-width="0.12" text-anchor="end">100</text>
<line x1="58.30" y1="443.70" x2="205.70" y2="443.70" stroke="#3d3d3d" stroke-width="1.0"/>
<line x1="80.80" y1="443.70" x2="80.80" y2="446.70" stroke="#3d3d3d" stroke-width="1.0"/>
<line x1="114.80" y1="443.70" x2="114.80" y2="446.70" stroke="#3d3d3d" stroke-width="1.0"/>
<line x1="148.80" y1="443.70" x2="148.80" y2="446.70" stroke="#3d3d3d" stroke-width="1.0"/>
<line x1="183.50" y1="443.70" x2="183.50" y2="446.70" stroke="#3d3d3d" stroke-width="1.0"/>
<text x="32.50" y="428.65" font-size="8.20" fill="#333333" stroke="#333333" stroke-width="0.12" textLength="49.90" lengthAdjust="spacingAndGlyphs" transform="rotate(-90 32.50 428.65)">% of GFP<tspan font-size="62%" baseline-shift="35%">+</tspan> cells</text>
<line x1="69.80" y1="379.10" x2="91.80" y2="379.10" stroke="#3d3d3d" stroke-width="1.0"/>
<circle cx="80.80" cy="377.40" r="1.55" fill="#1c2656"/>
<circle cx="77.50" cy="381.30" r="1.55" fill="#1c2656"/>
<circle cx="84.00" cy="380.60" r="1.55" fill="#1c2656"/>
<line x1="115.20" y1="407.30" x2="115.20" y2="431.00" stroke="#7faa62" stroke-width="0.9"/>
<line x1="110.00" y1="407.30" x2="120.40" y2="407.30" stroke="#7faa62" stroke-width="0.9"/>
<line x1="110.00" y1="431.00" x2="120.40" y2="431.00" stroke="#7faa62" stroke-width="0.9"/>
<line x1="104.20" y1="419.30" x2="126.20" y2="419.30" stroke="#3d3d3d" stroke-width="1.0"/>
<circle cx="115.20" cy="403.90" r="1.55" fill="#4c9234"/>
<circle cx="115.20" cy="410.40" r="1.55" fill="#4c9234"/>
<circle cx="115.20" cy="443.20" r="1.55" fill="#4c9234"/>
<line x1="148.90" y1="379.80" x2="148.90" y2="385.50" stroke="#a8405e" stroke-width="0.9"/>
<line x1="143.90" y1="379.80" x2="153.90" y2="379.80" stroke="#a8405e" stroke-width="0.9"/>
<line x1="143.90" y1="385.50" x2="153.90" y2="385.50" stroke="#a8405e" stroke-width="0.9"/>
<line x1="138.10" y1="383.00" x2="159.70" y2="383.00" stroke="#3d3d3d" stroke-width="1.0"/>
<circle cx="148.70" cy="377.00" r="1.55" fill="#6e0c2e"/>
<circle cx="144.80" cy="387.00" r="1.55" fill="#6e0c2e"/>
<circle cx="152.90" cy="385.50" r="1.55" fill="#6e0c2e"/>
<line x1="183.20" y1="418.00" x2="183.20" y2="422.50" stroke="#4a3a66" stroke-width="0.9"/>
<line x1="178.70" y1="418.00" x2="187.70" y2="418.00" stroke="#4a3a66" stroke-width="0.9"/>
<line x1="178.70" y1="422.50" x2="187.70" y2="422.50" stroke="#4a3a66" stroke-width="0.9"/>
<line x1="172.20" y1="420.00" x2="194.20" y2="420.00" stroke="#3d3d3d" stroke-width="1.0"/>
<circle cx="183.00" cy="415.70" r="1.55" fill="#22143a"/>
<circle cx="179.30" cy="423.00" r="1.55" fill="#22143a"/>
<circle cx="187.00" cy="420.80" r="1.55" fill="#22143a"/>
<line x1="85.00" y1="379.10" x2="115.20" y2="379.10" stroke="#3d3d3d" stroke-width="0.9"/>
<line x1="115.20" y1="379.10" x2="115.20" y2="398.20" stroke="#3d3d3d" stroke-width="0.9"/>
<line x1="89.80" y1="368.10" x2="181.00" y2="368.10" stroke="#3d3d3d" stroke-width="0.9"/>
<line x1="181.00" y1="368.10" x2="181.00" y2="409.80" stroke="#3d3d3d" stroke-width="0.9"/>
<line x1="149.70" y1="378.50" x2="181.00" y2="378.50" stroke="#3d3d3d" stroke-width="0.9"/>
<text x="122.20" y="365.00" font-size="8.00" fill="#333333" stroke="#333333" stroke-width="0.12" textLength="29.00" lengthAdjust="spacingAndGlyphs"><tspan font-style="italic">P</tspan> &lt; .001</text>
<text x="90.90" y="376.60" font-size="8.00" fill="#333333" stroke="#333333" stroke-width="0.12" textLength="30.20" lengthAdjust="spacingAndGlyphs"><tspan font-style="italic">P</tspan> = .029</text>
<text x="150.80" y="376.60" font-size="8.00" fill="#333333" stroke="#333333" stroke-width="0.12" textLength="30.00" lengthAdjust="spacingAndGlyphs"><tspan font-style="italic">P</tspan> &lt; .001</text>
<text x="371.80" y="352.30" font-size="7.80" fill="#333333" stroke="#333333" stroke-width="0.12" text-anchor="middle">BM</text>
<line x1="298.00" y1="362.30" x2="298.00" y2="388.20" stroke="#3d3d3d" stroke-width="1.0"/>
<line x1="298.00" y1="393.50" x2="298.00" y2="443.70" stroke="#3d3d3d" stroke-width="1.0"/>
<line x1="296.00" y1="388.20" x2="300.50" y2="388.20" stroke="#3d3d3d" stroke-width="0.9"/>
<line x1="296.00" y1="393.50" x2="300.50" y2="393.50" stroke="#3d3d3d" stroke-width="0.9"/>
<line x1="295.10" y1="366.40" x2="298.00" y2="366.40" stroke="#3d3d3d" stroke-width="0.9"/>
<text x="291.80" y="368.80" font-size="8.10" fill="#333333" stroke="#333333" stroke-width="0.12" text-anchor="end">100</text>
<line x1="295.10" y1="377.70" x2="298.00" y2="377.70" stroke="#3d3d3d" stroke-width="0.9"/>
<text x="291.80" y="380.10" font-size="8.10" fill="#333333" stroke="#333333" stroke-width="0.12" text-anchor="end">50</text>
<line x1="295.10" y1="443.70" x2="298.00" y2="443.70" stroke="#3d3d3d" stroke-width="0.9"/>
<text x="291.80" y="446.10" font-size="8.10" fill="#333333" stroke="#333333" stroke-width="0.12" text-anchor="end">0.0</text>
<line x1="295.10" y1="433.76" x2="298.00" y2="433.76" stroke="#3d3d3d" stroke-width="0.9"/>
<text x="291.80" y="436.16" font-size="8.10" fill="#333333" stroke="#333333" stroke-width="0.12" text-anchor="end">0.2</text>
<line x1="295.10" y1="423.82" x2="298.00" y2="423.82" stroke="#3d3d3d" stroke-width="0.9"/>
<text x="291.80" y="426.22" font-size="8.10" fill="#333333" stroke="#333333" stroke-width="0.12" text-anchor="end">0.4</text>
<line x1="295.10" y1="413.88" x2="298.00" y2="413.88" stroke="#3d3d3d" stroke-width="0.9"/>
<text x="291.80" y="416.28" font-size="8.10" fill="#333333" stroke="#333333" stroke-width="0.12" text-anchor="end">0.6</text>
<line x1="295.10" y1="403.94" x2="298.00" y2="403.94" stroke="#3d3d3d" stroke-width="0.9"/>
<text x="291.80" y="406.34" font-size="8.10" fill="#333333" stroke="#333333" stroke-width="0.12" text-anchor="end">0.8</text>
<line x1="295.10" y1="394.00" x2="298.00" y2="394.00" stroke="#3d3d3d" stroke-width="0.9"/>
<text x="291.80" y="396.40" font-size="8.10" fill="#333333" stroke="#333333" stroke-width="0.12" text-anchor="end">1.0</text>
<line x1="298.00" y1="443.70" x2="446.20" y2="443.70" stroke="#3d3d3d" stroke-width="1.0"/>
<line x1="320.40" y1="443.70" x2="320.40" y2="446.70" stroke="#3d3d3d" stroke-width="1.0"/>
<line x1="354.30" y1="443.70" x2="354.30" y2="446.70" stroke="#3d3d3d" stroke-width="1.0"/>
<line x1="388.80" y1="443.70" x2="388.80" y2="446.70" stroke="#3d3d3d" stroke-width="1.0"/>
<line x1="423.00" y1="443.70" x2="423.00" y2="446.70" stroke="#3d3d3d" stroke-width="1.0"/>
<text x="272.80" y="428.15" font-size="8.00" fill="#333333" stroke="#333333" stroke-width="0.12" textLength="49.30" lengthAdjust="spacingAndGlyphs" transform="rotate(-90 272.80 428.15)">% of BFP<tspan font-size="62%" baseline-shift="35%">+</tspan> cells</text>
<line x1="320.60" y1="403.90" x2="320.60" y2="409.80" stroke="#3c4a80" stroke-width="0.9"/>
<line x1="315.60" y1="403.90" x2="325.60" y2="403.90" stroke="#3c4a80" stroke-width="0.9"/>
<line x1="315.60" y1="409.80" x2="325.60" y2="409.80" stroke="#3c4a80" stroke-width="0.9"/>
<line x1="309.60" y1="407.30" x2="331.60" y2="407.30" stroke="#3d3d3d" stroke-width="1.0"/>
<circle cx="320.40" cy="400.70" r="1.55" fill="#1c2656"/>
<circle cx="316.60" cy="411.50" r="1.55" fill="#1c2656"/>
<circle cx="324.60" cy="409.40" r="1.55" fill="#1c2656"/>
<line x1="354.40" y1="435.60" x2="354.40" y2="442.00" stroke="#7faa62" stroke-width="0.9"/>
<line x1="349.40" y1="435.60" x2="359.40" y2="435.60" stroke="#7faa62" stroke-width="0.9"/>
<line x1="349.40" y1="442.00" x2="359.40" y2="442.00" stroke="#7faa62" stroke-width="0.9"/>
<line x1="343.40" y1="439.00" x2="365.40" y2="439.00" stroke="#3d3d3d" stroke-width="1.0"/>
<circle cx="354.30" cy="432.40" r="1.55" fill="#4c9234"/>
<circle cx="351.30" cy="442.00" r="1.55" fill="#4c9234"/>
<circle cx="358.00" cy="439.40" r="1.55" fill="#4c9234"/>
<line x1="388.80" y1="429.30" x2="388.80" y2="436.30" stroke="#a8405e" stroke-width="0.9"/>
<line x1="383.80" y1="429.30" x2="393.80" y2="429.30" stroke="#a8405e" stroke-width="0.9"/>
<line x1="383.80" y1="436.30" x2="393.80" y2="436.30" stroke="#a8405e" stroke-width="0.9"/>
<line x1="377.80" y1="432.70" x2="399.80" y2="432.70" stroke="#3d3d3d" stroke-width="1.0"/>
<circle cx="388.80" cy="426.30" r="1.55" fill="#6e0c2e"/>
<circle cx="385.60" cy="436.30" r="1.55" fill="#6e0c2e"/>
<circle cx="393.00" cy="435.20" r="1.55" fill="#6e0c2e"/>
<line x1="412.50" y1="443.00" x2="433.50" y2="443.00" stroke="#3d3d3d" stroke-width="1.0"/>
<circle cx="415.00" cy="442.60" r="1.2" fill="#22143a"/>
<circle cx="420.50" cy="442.80" r="1.2" fill="#22143a"/>
<circle cx="426.00" cy="442.60" r="1.2" fill="#22143a"/>
<circle cx="431.00" cy="442.60" r="1.2" fill="#22143a"/>
<line x1="328.00" y1="374.90" x2="420.00" y2="374.90" stroke="#3d3d3d" stroke-width="0.9"/>
<line x1="420.00" y1="374.90" x2="420.00" y2="420.40" stroke="#3d3d3d" stroke-width="0.9"/>
<line x1="328.00" y1="387.00" x2="384.50" y2="387.00" stroke="#3d3d3d" stroke-width="0.9"/>
<line x1="384.50" y1="387.00" x2="384.50" y2="403.90" stroke="#3d3d3d" stroke-width="0.9"/>
<line x1="325.70" y1="399.70" x2="354.30" y2="399.70" stroke="#3d3d3d" stroke-width="0.9"/>
<line x1="354.30" y1="399.70" x2="354.30" y2="426.70" stroke="#3d3d3d" stroke-width="0.9"/>
<line x1="389.80" y1="409.40" x2="420.00" y2="409.40" stroke="#3d3d3d" stroke-width="0.9"/>
<text x="360.00" y="371.40" font-size="8.00" fill="#333333" stroke="#333333" stroke-width="0.12" textLength="30.00" lengthAdjust="spacingAndGlyphs"><tspan font-style="italic">P</tspan> &lt; .001</text>
<text x="338.60" y="384.50" font-size="8.00" fill="#333333" stroke="#333333" stroke-width="0.12" textLength="30.40" lengthAdjust="spacingAndGlyphs"><tspan font-style="italic">P</tspan> = .004</text>
<text x="326.80" y="397.40" font-size="8.00" fill="#333333" stroke="#333333" stroke-width="0.12" textLength="29.60" lengthAdjust="spacingAndGlyphs"><tspan font-style="italic">P</tspan> = .002</text>
<text x="387.70" y="406.70" font-size="8.00" fill="#333333" stroke="#333333" stroke-width="0.12" textLength="30.00" lengthAdjust="spacingAndGlyphs"><tspan font-style="italic">P</tspan> = .031</text>
<circle cx="454.70" cy="387.20" r="1.5" fill="#1c2656"/>
<text x="459.50" y="389.90" font-size="7.71" fill="#333333" stroke="#333333" stroke-width="0.12" textLength="25.00" lengthAdjust="spacingAndGlyphs">Vehicle</text>
<circle cx="454.70" cy="398.00" r="1.5" fill="#4c9234"/>
<text x="459.50" y="400.70" font-size="7.71" fill="#333333" stroke="#333333" stroke-width="0.12" textLength="25.50" lengthAdjust="spacingAndGlyphs">PU-H71</text>
<circle cx="454.70" cy="409.60" r="1.5" fill="#6e0c2e"/>
<text x="459.50" y="412.30" font-size="7.71" fill="#333333" stroke="#333333" stroke-width="0.12" textLength="15.00" lengthAdjust="spacingAndGlyphs">VEN</text>
<circle cx="454.70" cy="421.20" r="1.5" fill="#22143a"/>
<text x="459.50" y="423.90" font-size="7.71" fill="#333333" stroke="#333333" stroke-width="0.12" textLength="45.80" lengthAdjust="spacingAndGlyphs">VEN+PU-H71</text>
<text x="75.80" y="474.60" font-size="8.57" fill="#333333" stroke="#333333" stroke-width="0.12" textLength="108.40" lengthAdjust="spacingAndGlyphs">PDX: resistance/relapsed AML</text>
<text x="80.40" y="483.10" font-size="8.57" fill="#333333" stroke="#333333" stroke-width="0.12" textLength="99.90" lengthAdjust="spacingAndGlyphs">(TP53-Y220C, NRAS, KRAS)</text>
<line x1="58.30" y1="497.60" x2="58.30" y2="602.50" stroke="#3d3d3d" stroke-width="1.0"/>
<line x1="55.80" y1="602.50" x2="58.30" y2="602.50" stroke="#3d3d3d" stroke-width="0.9"/>
<text x="51.80" y="604.90" font-size="8.10" fill="#333333" stroke="#333333" stroke-width="0.12" text-anchor="end">50</text>
<line x1="55.80" y1="582.20" x2="58.30" y2="582.20" stroke="#3d3d3d" stroke-width="0.9"/>
<text x="51.80" y="584.60" font-size="8.10" fill="#333333" stroke="#333333" stroke-width="0.12" text-anchor="end">60</text>
<line x1="55.80" y1="561.90" x2="58.30" y2="561.90" stroke="#3d3d3d" stroke-width="0.9"/>
<text x="51.80" y="564.30" font-size="8.10" fill="#333333" stroke="#333333" stroke-width="0.12" text-anchor="end">70</text>
<line x1="55.80" y1="541.60" x2="58.30" y2="541.60" stroke="#3d3d3d" stroke-width="0.9"/>
<text x="51.80" y="544.00" font-size="8.10" fill="#333333" stroke="#333333" stroke-width="0.12" text-anchor="end">80</text>
<line x1="55.80" y1="521.30" x2="58.30" y2="521.30" stroke="#3d3d3d" stroke-width="0.9"/>
<text x="51.80" y="523.70" font-size="8.10" fill="#333333" stroke="#333333" stroke-width="0.12" text-anchor="end">90</text>
<line x1="55.80" y1="501.00" x2="58.30" y2="501.00" stroke="#3d3d3d" stroke-width="0.9"/>
<text x="51.80" y="503.40" font-size="8.10" fill="#333333" stroke="#333333" stroke-width="0.12" text-anchor="end">100</text>
<line x1="58.30" y1="602.50" x2="202.30" y2="602.50" stroke="#3d3d3d" stroke-width="1.0"/>
<line x1="80.20" y1="602.50" x2="80.20" y2="605.50" stroke="#3d3d3d" stroke-width="1.0"/>
<line x1="113.70" y1="602.50" x2="113.70" y2="605.50" stroke="#3d3d3d" stroke-width="1.0"/>
<line x1="147.50" y1="602.50" x2="147.50" y2="605.50" stroke="#3d3d3d" stroke-width="1.0"/>
<line x1="180.80" y1="602.50" x2="180.80" y2="605.50" stroke="#3d3d3d" stroke-width="1.0"/>
<text x="31.10" y="583.00" font-size="8.60" fill="#333333" stroke="#333333" stroke-width="0.12" textLength="67.20" lengthAdjust="spacingAndGlyphs" transform="rotate(-90 31.10 583.00)">PB huCD45 cells (%)</text>
<circle cx="70.50" cy="514.50" r="1.55" fill="#1c2656"/>
<circle cx="75.50" cy="514.90" r="1.55" fill="#1c2656"/>
<circle cx="80.20" cy="512.60" r="1.55" fill="#1c2656"/>
<circle cx="85.20" cy="514.90" r="1.55" fill="#1c2656"/>
<circle cx="89.90" cy="513.80" r="1.55" fill="#1c2656"/>
<circle cx="75.50" cy="517.90" r="1.55" fill="#1c2656"/>
<circle cx="80.20" cy="516.90" r="1.55" fill="#1c2656"/>
<circle cx="85.20" cy="518.90" r="1.55" fill="#1c2656"/>
<circle cx="80.20" cy="522.30" r="1.55" fill="#1c2656"/>
<circle cx="80.20" cy="529.70" r="1.55" fill="#1c2656"/>
<line x1="73.00" y1="516.00" x2="91.00" y2="516.00" stroke="#3d3d3d" stroke-width="0.9"/>
<circle cx="104.10" cy="520.30" r="1.55" fill="#6e0c2e"/>
<circle cx="110.50" cy="518.90" r="1.55" fill="#6e0c2e"/>
<circle cx="116.80" cy="519.90" r="1.55" fill="#6e0c2e"/>
<circle cx="110.50" cy="522.70" r="1.55" fill="#6e0c2e"/>
<circle cx="110.50" cy="527.40" r="1.55" fill="#6e0c2e"/>
<circle cx="116.80" cy="529.40" r="1.55" fill="#6e0c2e"/>
<circle cx="110.50" cy="541.10" r="1.55" fill="#6e0c2e"/>
<circle cx="116.80" cy="544.10" r="1.55" fill="#6e0c2e"/>
<circle cx="113.60" cy="552.60" r="1.55" fill="#6e0c2e"/>
<circle cx="123.30" cy="518.50" r="1.55" fill="#6e0c2e"/>
<line x1="102.80" y1="525.30" x2="124.80" y2="525.30" stroke="#3d3d3d" stroke-width="0.9"/>
<circle cx="147.00" cy="536.50" r="1.55" fill="#4c9234"/>
<circle cx="140.80" cy="545.00" r="1.55" fill="#4c9234"/>
<circle cx="147.00" cy="544.20" r="1.55" fill="#4c9234"/>
<circle cx="153.50" cy="545.00" r="1.55" fill="#4c9234"/>
<circle cx="147.00" cy="547.30" r="1.55" fill="#4c9234"/>
<circle cx="140.80" cy="555.80" r="1.55" fill="#4c9234"/>
<circle cx="147.00" cy="553.50" r="1.55" fill="#4c9234"/>
<circle cx="147.00" cy="557.30" r="1.55" fill="#4c9234"/>
<circle cx="153.50" cy="556.10" r="1.55" fill="#4c9234"/>
<circle cx="147.00" cy="564.20" r="1.55" fill="#4c9234"/>
<line x1="136.20" y1="550.80" x2="158.10" y2="550.80" stroke="#3d3d3d" stroke-width="0.9"/>
<circle cx="177.30" cy="523.50" r="1.55" fill="#22143a"/>
<circle cx="183.80" cy="523.50" r="1.55" fill="#22143a"/>
<circle cx="180.40" cy="534.50" r="1.55" fill="#22143a"/>
<circle cx="177.30" cy="540.10" r="1.55" fill="#22143a"/>
<circle cx="183.80" cy="543.20" r="1.55" fill="#22143a"/>
<circle cx="180.40" cy="547.80" r="1.55" fill="#22143a"/>
<circle cx="177.30" cy="553.80" r="1.55" fill="#22143a"/>
<circle cx="183.80" cy="552.40" r="1.55" fill="#22143a"/>
<circle cx="177.00" cy="573.50" r="1.55" fill="#22143a"/>
<circle cx="183.30" cy="572.60" r="1.55" fill="#22143a"/>
<line x1="169.60" y1="545.30" x2="191.60" y2="545.30" stroke="#3d3d3d" stroke-width="0.9"/>
<line x1="84.20" y1="500.40" x2="177.30" y2="500.40" stroke="#3d3d3d" stroke-width="0.9"/>
<line x1="145.50" y1="500.40" x2="145.50" y2="508.00" stroke="#3d3d3d" stroke-width="0.9"/>
<line x1="177.30" y1="500.40" x2="177.30" y2="507.30" stroke="#3d3d3d" stroke-width="0.9"/>
<line x1="83.50" y1="508.20" x2="113.60" y2="508.20" stroke="#3d3d3d" stroke-width="0.9"/>
<line x1="113.60" y1="508.20" x2="113.60" y2="514.90" stroke="#3d3d3d" stroke-width="0.9"/>
<line x1="121.20" y1="513.90" x2="178.00" y2="513.90" stroke="#3d3d3d" stroke-width="0.9"/>
<line x1="178.00" y1="513.90" x2="178.00" y2="521.20" stroke="#3d3d3d" stroke-width="0.9"/>
<line x1="120.40" y1="522.40" x2="146.50" y2="522.40" stroke="#3d3d3d" stroke-width="0.9"/>
<line x1="146.50" y1="522.40" x2="146.50" y2="530.40" stroke="#3d3d3d" stroke-width="0.9"/>
<text x="115.20" y="496.80" font-size="8.00" fill="#333333" stroke="#333333" stroke-width="0.12" textLength="33.60" lengthAdjust="spacingAndGlyphs"><tspan font-style="italic">P</tspan> &lt; .0001</text>
<text x="82.90" y="507.80" font-size="8.00" fill="#333333" stroke="#333333" stroke-width="0.12" textLength="29.90" lengthAdjust="spacingAndGlyphs"><tspan font-style="italic">P</tspan> = .002</text>
<text x="148.80" y="511.60" font-size="8.00" fill="#333333" stroke="#333333" stroke-width="0.12" textLength="25.40" lengthAdjust="spacingAndGlyphs"><tspan font-style="italic">P</tspan> = .02</text>
<text x="126.50" y="521.30" font-size="8.00" fill="#333333" stroke="#333333" stroke-width="0.12" textLength="34.30" lengthAdjust="spacingAndGlyphs"><tspan font-style="italic">P</tspan> = .0005</text>
<text x="203.80" y="530.60" font-size="8.29" fill="#333333" stroke="#333333" stroke-width="0.12" textLength="48.50" lengthAdjust="spacingAndGlyphs">n = 10/group</text>
<circle cx="205.40" cy="538.90" r="1.5" fill="#1c2656"/>
<text x="210.00" y="541.65" font-size="7.86" fill="#333333" stroke="#333333" stroke-width="0.12" textLength="25.50" lengthAdjust="spacingAndGlyphs">Vehicle</text>
<circle cx="205.40" cy="550.00" r="1.5" fill="#4c9234"/>
<text x="210.00" y="552.75" font-size="7.86" fill="#333333" stroke="#333333" stroke-width="0.12" textLength="26.01" lengthAdjust="spacingAndGlyphs">PU-H71</text>
<circle cx="205.40" cy="561.20" r="1.5" fill="#6e0c2e"/>
<text x="210.00" y="563.95" font-size="7.86" fill="#333333" stroke="#333333" stroke-width="0.12" textLength="15.30" lengthAdjust="spacingAndGlyphs">VEN</text>
<circle cx="205.40" cy="572.40" r="1.5" fill="#22143a"/>
<text x="210.00" y="575.15" font-size="7.86" fill="#333333" stroke="#333333" stroke-width="0.12" textLength="46.72" lengthAdjust="spacingAndGlyphs">VEN+PU-H71</text>
<line x1="58.30" y1="621.00" x2="58.30" y2="695.40" stroke="#3d3d3d" stroke-width="1.0"/>
<line x1="55.80" y1="695.40" x2="58.30" y2="695.40" stroke="#3d3d3d" stroke-width="0.9"/>
<text x="52.10" y="697.80" font-size="8.10" fill="#333333" stroke="#333333" stroke-width="0.12" text-anchor="end">0</text>
<line x1="55.80" y1="671.40" x2="58.30" y2="671.40" stroke="#3d3d3d" stroke-width="0.9"/>
<text x="52.10" y="673.80" font-size="8.10" fill="#333333" stroke="#333333" stroke-width="0.12" text-anchor="end">10</text>
<line x1="55.80" y1="647.40" x2="58.30" y2="647.40" stroke="#3d3d3d" stroke-width="0.9"/>
<text x="52.10" y="649.80" font-size="8.10" fill="#333333" stroke="#333333" stroke-width="0.12" text-anchor="end">20</text>
<line x1="55.80" y1="623.40" x2="58.30" y2="623.40" stroke="#3d3d3d" stroke-width="0.9"/>
<text x="52.10" y="625.80" font-size="8.10" fill="#333333" stroke="#333333" stroke-width="0.12" text-anchor="end">30</text>
<line x1="58.30" y1="695.40" x2="154.00" y2="695.40" stroke="#3d3d3d" stroke-width="1.0"/>
<line x1="73.00" y1="695.40" x2="73.00" y2="698.40" stroke="#3d3d3d" stroke-width="1.0"/>
<line x1="95.50" y1="695.40" x2="95.50" y2="698.40" stroke="#3d3d3d" stroke-width="1.0"/>
<line x1="118.80" y1="695.40" x2="118.80" y2="698.40" stroke="#3d3d3d" stroke-width="1.0"/>
<line x1="140.80" y1="695.40" x2="140.80" y2="698.40" stroke="#3d3d3d" stroke-width="1.0"/>
<text x="25.80" y="681.80" font-size="9.00" fill="#333333" stroke="#333333" stroke-width="0.12" textLength="47.20" lengthAdjust="spacingAndGlyphs" transform="rotate(-90 25.80 681.80)">Spleen/body</text>
<text x="36.40" y="682.25" font-size="9.00" fill="#333333" stroke="#333333" stroke-width="0.12" textLength="48.50" lengthAdjust="spacingAndGlyphs" transform="rotate(-90 36.40 682.25)">weight (mg/g)</text>
<line x1="66.00" y1="649.20" x2="80.00" y2="649.20" stroke="#27356b" stroke-width="0.9"/>
<circle cx="69.70" cy="648.80" r="1.55" fill="#1c2656"/>
<circle cx="76.50" cy="648.80" r="1.55" fill="#1c2656"/>
<circle cx="73.00" cy="653.40" r="1.55" fill="#1c2656"/>
<line x1="88.60" y1="660.40" x2="103.30" y2="660.40" stroke="#a31f45" stroke-width="0.9"/>
<circle cx="89.80" cy="661.30" r="1.55" fill="#6e0c2e"/>
<circle cx="95.50" cy="659.60" r="1.55" fill="#6e0c2e"/>
<circle cx="101.50" cy="660.30" r="1.55" fill="#6e0c2e"/>
<line x1="111.00" y1="667.50" x2="125.80" y2="667.50" stroke="#6aac3c" stroke-width="0.9"/>
<circle cx="112.30" cy="667.70" r="1.55" fill="#4c9234"/>
<circle cx="118.80" cy="667.20" r="1.55" fill="#4c9234"/>
<circle cx="124.40" cy="667.70" r="1.55" fill="#4c9234"/>
<line x1="133.60" y1="674.10" x2="149.00" y2="674.10" stroke="#2c1944" stroke-width="0.9"/>
<circle cx="138.20" cy="672.00" r="1.55" fill="#22143a"/>
<circle cx="144.80" cy="674.10" r="1.55" fill="#22143a"/>
<circle cx="141.30" cy="678.10" r="1.55" fill="#22143a"/>
<line x1="75.20" y1="621.50" x2="138.70" y2="621.50" stroke="#3d3d3d" stroke-width="0.9"/>
<line x1="138.70" y1="621.50" x2="138.70" y2="627.00" stroke="#3d3d3d" stroke-width="0.9"/>
<line x1="77.30" y1="630.80" x2="116.20" y2="630.80" stroke="#3d3d3d" stroke-width="0.9"/>
<line x1="116.20" y1="630.80" x2="116.20" y2="636.60" stroke="#3d3d3d" stroke-width="0.9"/>
<line x1="74.70" y1="639.50" x2="93.70" y2="639.50" stroke="#3d3d3d" stroke-width="0.9"/>
<line x1="93.70" y1="639.50" x2="93.70" y2="643.50" stroke="#3d3d3d" stroke-width="0.9"/>
<line x1="101.20" y1="644.70" x2="140.00" y2="644.70" stroke="#3d3d3d" stroke-width="0.9"/>
<line x1="140.00" y1="644.70" x2="140.00" y2="652.00" stroke="#3d3d3d" stroke-width="0.9"/>
<line x1="119.70" y1="655.00" x2="141.30" y2="655.00" stroke="#3d3d3d" stroke-width="0.9"/>
<line x1="141.30" y1="655.00" x2="141.30" y2="660.00" stroke="#3d3d3d" stroke-width="0.9"/>
<polyline points="94.60,670.30 94.60,674.60 115.70,674.60 115.70,670.30" fill="none" stroke="#3d3d3d" stroke-width="0.9"/>
<text x="89.40" y="618.60" font-size="8.00" fill="#333333" stroke="#333333" stroke-width="0.12" textLength="35.00" lengthAdjust="spacingAndGlyphs"><tspan font-style="italic">P</tspan> = .0005</text>
<text x="79.90" y="629.50" font-size="8.00" fill="#333333" stroke="#333333" stroke-width="0.12" textLength="34.60" lengthAdjust="spacingAndGlyphs"><tspan font-style="italic">P</tspan> = .0075</text>
<text x="66.90" y="638.50" font-size="8.00" fill="#333333" stroke="#333333" stroke-width="0.12" textLength="30.30" lengthAdjust="spacingAndGlyphs"><tspan font-style="italic">P</tspan> = .012</text>
<text x="105.30" y="642.80" font-size="8.00" fill="#333333" stroke="#333333" stroke-width="0.12" textLength="35.20" lengthAdjust="spacingAndGlyphs"><tspan font-style="italic">P</tspan> = .0072</text>
<text x="108.50" y="652.70" font-size="8.00" fill="#333333" stroke="#333333" stroke-width="0.12" textLength="30.20" lengthAdjust="spacingAndGlyphs"><tspan font-style="italic">P</tspan> = .045</text>
<text x="89.00" y="684.40" font-size="8.00" fill="#333333" stroke="#333333" stroke-width="0.12" textLength="34.20" lengthAdjust="spacingAndGlyphs"><tspan font-style="italic">P</tspan> = .0071</text>
<text x="163.00" y="638.50" font-size="8.29" fill="#333333" stroke="#333333" stroke-width="0.12" textLength="44.30" lengthAdjust="spacingAndGlyphs">n = 3/group</text>
<circle cx="164.40" cy="646.90" r="1.5" fill="#1c2656"/>
<text x="169.60" y="649.65" font-size="7.86" fill="#333333" stroke="#333333" stroke-width="0.12" textLength="25.00" lengthAdjust="spacingAndGlyphs">Vehicle</text>
<circle cx="164.40" cy="658.00" r="1.5" fill="#4c9234"/>
<text x="169.60" y="660.75" font-size="7.86" fill="#333333" stroke="#333333" stroke-width="0.12" textLength="25.50" lengthAdjust="spacingAndGlyphs">PU-H71</text>
<circle cx="164.40" cy="669.20" r="1.5" fill="#6e0c2e"/>
<text x="169.60" y="671.95" font-size="7.86" fill="#333333" stroke="#333333" stroke-width="0.12" textLength="15.00" lengthAdjust="spacingAndGlyphs">VEN</text>
<circle cx="164.40" cy="680.80" r="1.5" fill="#22143a"/>
<text x="169.60" y="683.55" font-size="7.86" fill="#333333" stroke="#333333" stroke-width="0.12" textLength="45.80" lengthAdjust="spacingAndGlyphs">VEN+PU-H71</text>
<line x1="297.90" y1="498.50" x2="297.90" y2="602.50" stroke="#3d3d3d" stroke-width="1.0"/>
<line x1="297.90" y1="602.50" x2="500.00" y2="602.50" stroke="#3d3d3d" stroke-width="1.0"/>
<line x1="295.20" y1="602.50" x2="297.90" y2="602.50" stroke="#3d3d3d" stroke-width="0.7"/>
<line x1="296.40" y1="592.31" x2="297.90" y2="592.31" stroke="#3d3d3d" stroke-width="0.7"/>
<line x1="296.40" y1="582.12" x2="297.90" y2="582.12" stroke="#3d3d3d" stroke-width="0.7"/>
<line x1="296.40" y1="571.93" x2="297.90" y2="571.93" stroke="#3d3d3d" stroke-width="0.7"/>
<line x1="296.40" y1="561.74" x2="297.90" y2="561.74" stroke="#3d3d3d" stroke-width="0.7"/>
<line x1="295.20" y1="551.55" x2="297.90" y2="551.55" stroke="#3d3d3d" stroke-width="0.7"/>
<line x1="296.40" y1="541.36" x2="297.90" y2="541.36" stroke="#3d3d3d" stroke-width="0.7"/>
<line x1="296.40" y1="531.17" x2="297.90" y2="531.17" stroke="#3d3d3d" stroke-width="0.7"/>
<line x1="296.40" y1="520.98" x2="297.90" y2="520.98" stroke="#3d3d3d" stroke-width="0.7"/>
<line x1="296.40" y1="510.79" x2="297.90" y2="510.79" stroke="#3d3d3d" stroke-width="0.7"/>
<line x1="295.20" y1="500.60" x2="297.90" y2="500.60" stroke="#3d3d3d" stroke-width="0.7"/>
<line x1="298.30" y1="602.50" x2="298.30" y2="604.80" stroke="#3d3d3d" stroke-width="0.6"/>
<line x1="303.12" y1="602.50" x2="303.12" y2="603.90" stroke="#3d3d3d" stroke-width="0.6"/>
<line x1="307.94" y1="602.50" x2="307.94" y2="603.90" stroke="#3d3d3d" stroke-width="0.6"/>
<line x1="312.76" y1="602.50" x2="312.76" y2="603.90" stroke="#3d3d3d" stroke-width="0.6"/>
<line x1="317.58" y1="602.50" x2="317.58" y2="603.90" stroke="#3d3d3d" stroke-width="0.6"/>
<line x1="322.40" y1="602.50" x2="322.40" y2="603.90" stroke="#3d3d3d" stroke-width="0.6"/>
<line x1="327.22" y1="602.50" x2="327.22" y2="603.90" stroke="#3d3d3d" stroke-width="0.6"/>
<line x1="332.04" y1="602.50" x2="332.04" y2="603.90" stroke="#3d3d3d" stroke-width="0.6"/>
<line x1="336.86" y1="602.50" x2="336.86" y2="603.90" stroke="#3d3d3d" stroke-width="0.6"/>
<line x1="341.68" y1="602.50" x2="341.68" y2="603.90" stroke="#3d3d3d" stroke-width="0.6"/>
<line x1="346.50" y1="602.50" x2="346.50" y2="604.80" stroke="#3d3d3d" stroke-width="0.6"/>
<line x1="351.32" y1="602.50" x2="351.32" y2="603.90" stroke="#3d3d3d" stroke-width="0.6"/>
<line x1="356.14" y1="602.50" x2="356.14" y2="603.90" stroke="#3d3d3d" stroke-width="0.6"/>
<line x1="360.96" y1="602.50" x2="360.96" y2="603.90" stroke="#3d3d3d" stroke-width="0.6"/>
<line x1="365.78" y1="602.50" x2="365.78" y2="603.90" stroke="#3d3d3d" stroke-width="0.6"/>
<line x1="370.60" y1="602.50" x2="370.60" y2="603.90" stroke="#3d3d3d" stroke-width="0.6"/>
<line x1="375.42" y1="602.50" x2="375.42" y2="603.90" stroke="#3d3d3d" stroke-width="0.6"/>
<line x1="380.24" y1="602.50" x2="380.24" y2="603.90" stroke="#3d3d3d" stroke-width="0.6"/>
<line x1="385.06" y1="602.50" x2="385.06" y2="603.90" stroke="#3d3d3d" stroke-width="0.6"/>
<line x1="389.88" y1="602.50" x2="389.88" y2="603.90" stroke="#3d3d3d" stroke-width="0.6"/>
<line x1="394.70" y1="602.50" x2="394.70" y2="604.80" stroke="#3d3d3d" stroke-width="0.6"/>
<line x1="399.52" y1="602.50" x2="399.52" y2="603.90" stroke="#3d3d3d" stroke-width="0.6"/>
<line x1="404.34" y1="602.50" x2="404.34" y2="603.90" stroke="#3d3d3d" stroke-width="0.6"/>
<line x1="409.16" y1="602.50" x2="409.16" y2="603.90" stroke="#3d3d3d" stroke-width="0.6"/>
<line x1="413.98" y1="602.50" x2="413.98" y2="603.90" stroke="#3d3d3d" stroke-width="0.6"/>
<line x1="418.80" y1="602.50" x2="418.80" y2="603.90" stroke="#3d3d3d" stroke-width="0.6"/>
<line x1="423.62" y1="602.50" x2="423.62" y2="603.90" stroke="#3d3d3d" stroke-width="0.6"/>
<line x1="428.44" y1="602.50" x2="428.44" y2="603.90" stroke="#3d3d3d" stroke-width="0.6"/>
<line x1="433.26" y1="602.50" x2="433.26" y2="603.90" stroke="#3d3d3d" stroke-width="0.6"/>
<line x1="438.08" y1="602.50" x2="438.08" y2="603.90" stroke="#3d3d3d" stroke-width="0.6"/>
<line x1="442.90" y1="602.50" x2="442.90" y2="604.80" stroke="#3d3d3d" stroke-width="0.6"/>
<line x1="447.72" y1="602.50" x2="447.72" y2="603.90" stroke="#3d3d3d" stroke-width="0.6"/>
<line x1="452.54" y1="602.50" x2="452.54" y2="603.90" stroke="#3d3d3d" stroke-width="0.6"/>
<line x1="457.36" y1="602.50" x2="457.36" y2="603.90" stroke="#3d3d3d" stroke-width="0.6"/>
<line x1="462.18" y1="602.50" x2="462.18" y2="603.90" stroke="#3d3d3d" stroke-width="0.6"/>
<line x1="467.00" y1="602.50" x2="467.00" y2="603.90" stroke="#3d3d3d" stroke-width="0.6"/>
<line x1="471.82" y1="602.50" x2="471.82" y2="603.90" stroke="#3d3d3d" stroke-width="0.6"/>
<line x1="476.64" y1="602.50" x2="476.64" y2="603.90" stroke="#3d3d3d" stroke-width="0.6"/>
<line x1="481.46" y1="602.50" x2="481.46" y2="603.90" stroke="#3d3d3d" stroke-width="0.6"/>
<line x1="486.28" y1="602.50" x2="486.28" y2="603.90" stroke="#3d3d3d" stroke-width="0.6"/>
<line x1="491.10" y1="602.50" x2="491.10" y2="604.80" stroke="#3d3d3d" stroke-width="0.6"/>
<line x1="495.92" y1="602.50" x2="495.92" y2="603.90" stroke="#3d3d3d" stroke-width="0.6"/>
<text x="291.70" y="503.00" font-size="8.10" fill="#333333" stroke="#333333" stroke-width="0.12" text-anchor="end">100</text>
<text x="291.70" y="553.95" font-size="8.10" fill="#333333" stroke="#333333" stroke-width="0.12" text-anchor="end">50</text>
<text x="291.70" y="604.90" font-size="8.10" fill="#333333" stroke="#333333" stroke-width="0.12" text-anchor="end">0</text>
<text x="298.30" y="615.90" font-size="7.60" fill="#333333" stroke="#333333" stroke-width="0.12" text-anchor="middle">0</text>
<text x="346.50" y="615.90" font-size="7.60" fill="#333333" stroke="#333333" stroke-width="0.12" text-anchor="middle">20</text>
<text x="394.70" y="615.90" font-size="7.60" fill="#333333" stroke="#333333" stroke-width="0.12" text-anchor="middle">40</text>
<text x="442.90" y="615.90" font-size="7.60" fill="#333333" stroke="#333333" stroke-width="0.12" text-anchor="middle">60</text>
<text x="491.10" y="615.90" font-size="7.60" fill="#333333" stroke="#333333" stroke-width="0.12" text-anchor="middle">80</text>
<text x="376.00" y="628.30" font-size="8.00" fill="#333333" stroke="#333333" stroke-width="0.12" textLength="57.00" lengthAdjust="spacingAndGlyphs">Survival days</text>
<text x="272.40" y="586.10" font-size="9.00" fill="#333333" stroke="#333333" stroke-width="0.12" textLength="72.20" lengthAdjust="spacingAndGlyphs" transform="rotate(-90 272.40 586.10)">Probability of survival</text>
<polyline points="298.30,500.60 448.20,500.60 482.40,500.60 482.40,529.71 484.50,529.71 484.50,544.27 492.40,544.27 492.40,573.39 494.40,573.39 494.40,602.50" fill="none" stroke="#7fa86a" stroke-width="1.0"/>
<polyline points="448.20,515.16 448.20,529.71 467.50,529.71 467.50,544.27 475.10,544.27 475.10,558.83 477.60,558.83 477.60,573.39 482.20,573.39 482.20,587.94 487.30,587.94 487.30,602.50" fill="none" stroke="#b03a5c" stroke-width="1.0"/>
<polyline points="298.30,500.60 448.20,500.60 448.20,515.16 460.40,515.16 460.40,573.39 465.40,573.39 465.40,602.50" fill="none" stroke="#3a2c4c" stroke-width="1.0"/>
<polyline points="465.40,587.94 477.60,587.94 477.60,602.50" fill="none" stroke="#3a2c4c" stroke-width="1.0"/>
<line x1="298.30" y1="500.60" x2="448.20" y2="500.60" stroke="#6a5a8a" stroke-width="1.0"/>
<text x="357.30" y="487.80" font-size="8.29" fill="#333333" stroke="#333333" stroke-width="0.12" textLength="93.50" lengthAdjust="spacingAndGlyphs">Treatment day 27- day 62</text>
<line x1="360.80" y1="495.30" x2="448.00" y2="495.30" stroke="#111" stroke-width="0.9"/>
<path d="M357.6,492.6 L364.0,492.6 L360.8,499.3 Z" fill="#111"/>
<path d="M444.8,492.6 L451.2,492.6 L448.0,499.3 Z" fill="#111"/>
<text x="277.40" y="645.80" font-size="8.00" fill="#333333" stroke="#333333" stroke-width="0.12" textLength="43.40" lengthAdjust="spacingAndGlyphs">n = 7/group</text>
<circle cx="278.50" cy="654.50" r="1.4" fill="#1c2656"/>
<text x="283.80" y="657.20" font-size="7.71" fill="#333333" stroke="#333333" stroke-width="0.12" textLength="24.88" lengthAdjust="spacingAndGlyphs">Vehicle</text>
<circle cx="278.50" cy="665.70" r="1.4" fill="#4c9234"/>
<text x="283.80" y="668.40" font-size="7.71" fill="#333333" stroke="#333333" stroke-width="0.12" textLength="25.37" lengthAdjust="spacingAndGlyphs">PU-H71</text>
<circle cx="278.50" cy="676.30" r="1.4" fill="#6e0c2e"/>
<text x="283.80" y="679.00" font-size="7.71" fill="#333333" stroke="#333333" stroke-width="0.12" textLength="14.93" lengthAdjust="spacingAndGlyphs">VEN</text>
<circle cx="278.50" cy="687.50" r="1.4" fill="#22143a"/>
<text x="283.80" y="690.20" font-size="7.71" fill="#333333" stroke="#333333" stroke-width="0.12" textLength="45.57" lengthAdjust="spacingAndGlyphs">VEN+PU-H71</text>
<text x="374.40" y="646.10" font-size="8.00" fill="#333333" stroke="#333333" stroke-width="0.12" textLength="50.10" lengthAdjust="spacingAndGlyphs">Median (days)</text>
<line x1="374.40" y1="646.80" x2="424.50" y2="646.80" stroke="#333333" stroke-width="0.6"/>
<text x="375.20" y="658.30" font-size="8.00" fill="#3b4479" stroke="#3b4479" stroke-width="0.12" textLength="9.10" lengthAdjust="spacingAndGlyphs">67</text>
<text x="375.20" y="668.50" font-size="8.00" fill="#6aa23e" stroke="#6aa23e" stroke-width="0.12" textLength="9.10" lengthAdjust="spacingAndGlyphs">80</text>
<text x="375.20" y="679.10" font-size="8.00" fill="#a8324f" stroke="#a8324f" stroke-width="0.12" textLength="9.10" lengthAdjust="spacingAndGlyphs">73</text>
<text x="375.20" y="688.60" font-size="8.00" fill="#3b3560" stroke="#3b3560" stroke-width="0.12" textLength="9.10" lengthAdjust="spacingAndGlyphs">67</text>
<polyline points="370.60,660.40 368.40,660.40 368.40,677.30 370.60,677.30" fill="none" stroke="#3b4479" stroke-width="0.9"/>
<line x1="365.30" y1="668.60" x2="368.40" y2="668.60" stroke="#3b4479" stroke-width="0.9"/>
<text x="333.50" y="670.60" font-size="8.00" fill="#3b4479" stroke="#3b4479" stroke-width="0.12" textLength="29.50" lengthAdjust="spacingAndGlyphs"><tspan font-style="italic">P</tspan> = .004</text>
<polyline points="386.40,654.50 389.00,654.50 389.00,664.60 386.40,664.60" fill="none" stroke="#6aa23e" stroke-width="0.9"/>
<line x1="389.00" y1="659.50" x2="392.60" y2="659.50" stroke="#6aa23e" stroke-width="0.9"/>
<text x="394.90" y="662.10" font-size="8.00" fill="#6aa23e" stroke="#6aa23e" stroke-width="0.12" textLength="34.90" lengthAdjust="spacingAndGlyphs"><tspan font-style="italic">P</tspan> = .0001</text>
<polyline points="429.80,653.00 432.40,653.00 432.40,675.20 429.80,675.20" fill="none" stroke="#a8324f" stroke-width="0.9"/>
<line x1="432.40" y1="664.00" x2="435.40" y2="664.00" stroke="#a8324f" stroke-width="0.9"/>
<text x="436.60" y="666.40" font-size="8.00" fill="#a8324f" stroke="#a8324f" stroke-width="0.12" textLength="30.20" lengthAdjust="spacingAndGlyphs"><tspan font-style="italic">P</tspan> = .011</text>
<polyline points="466.80,651.80 470.60,651.80 470.60,690.20 466.80,690.20" fill="none" stroke="#4a3e6a" stroke-width="0.9"/>
<line x1="470.60" y1="671.00" x2="473.60" y2="671.00" stroke="#4a3e6a" stroke-width="0.9"/>
<text x="475.60" y="673.90" font-size="8.00" fill="#4a3e6a" stroke="#4a3e6a" stroke-width="0.12" textLength="29.60" lengthAdjust="spacingAndGlyphs"><tspan font-style="italic">P</tspan> = 0.88</text>
<rect x="0.5" y="0.5" width="519" height="709" fill="none" stroke="#4a4a4a" stroke-width="1"/>
</svg>
</body></html>
